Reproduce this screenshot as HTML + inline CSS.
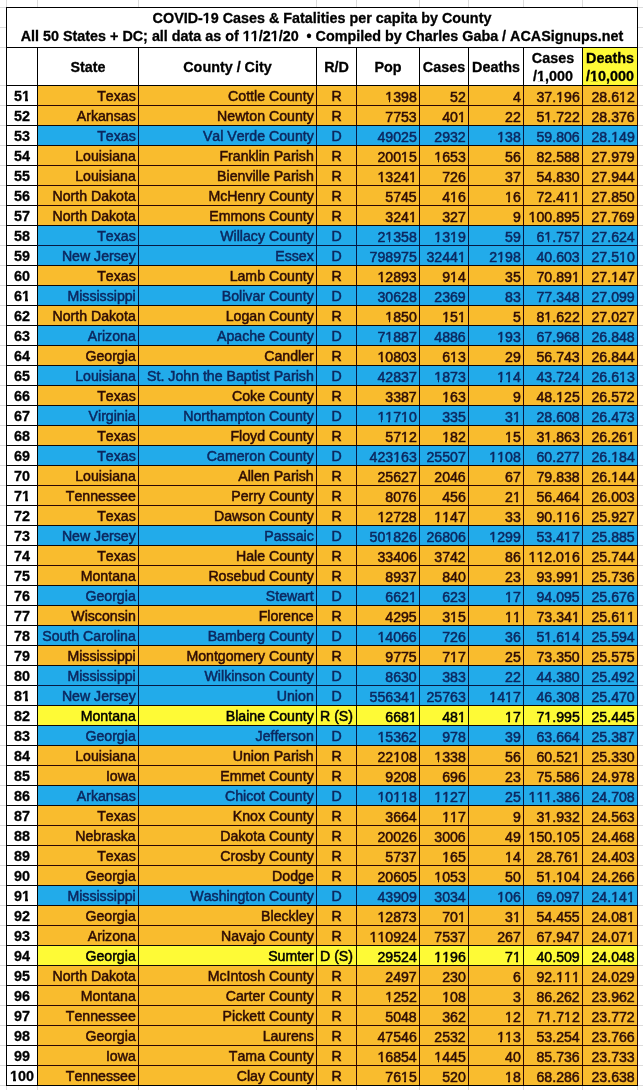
<!DOCTYPE html><html><head><meta charset="utf-8"><style>
html,body{margin:0;padding:0;background:#fff;}
body{width:643px;height:1090px;position:relative;overflow:hidden;font-family:"Liberation Sans",sans-serif;font-size:14.15px;color:#000;font-kerning:none;}
.a{position:absolute;}
.c{position:absolute;white-space:nowrap;line-height:20px;height:20px;-webkit-text-stroke:0.5px currentColor;}
.r{text-align:right;}
.m{text-align:center;}
.b{font-weight:bold;font-size:14.35px;-webkit-text-stroke:0.3px currentColor;}
.o{position:relative;}
.o::before,.o::after{content:'';position:absolute;background:var(--bg,#fff);}
.o::before{left:0;width:0.228em;bottom:0.12em;height:0.22em;}
.o::after{left:0.362em;width:0.195em;bottom:0.12em;height:0.22em;}
.b .o::before{width:0.222em;bottom:0.16em;height:0.2em;}
.b .o::after{left:0.385em;width:0.18em;bottom:0.16em;height:0.2em;}
.gh{position:absolute;height:1px;background:#dcdcdc;}
.gv{position:absolute;width:1px;background:#dcdcdc;}
.lh{position:absolute;height:1px;background:#000;}
.lv{position:absolute;width:1px;background:#000;}

</style></head><body><div id="w" style="position:absolute;left:0;top:0;width:643px;height:1090px;will-change:transform">
<div class="gh" style="left:0;top:7px;width:6px"></div>
<div class="gh" style="left:638px;top:7px;width:5px"></div>
<div class="gh" style="left:0;top:27px;width:6px"></div>
<div class="gh" style="left:638px;top:27px;width:5px"></div>
<div class="gh" style="left:0;top:47px;width:6px"></div>
<div class="gh" style="left:638px;top:47px;width:5px"></div>
<div class="gh" style="left:0;top:85px;width:6px"></div>
<div class="gh" style="left:638px;top:85px;width:5px"></div>
<div class="gh" style="left:0;top:105px;width:6px"></div>
<div class="gh" style="left:638px;top:105px;width:5px"></div>
<div class="gh" style="left:0;top:125px;width:6px"></div>
<div class="gh" style="left:638px;top:125px;width:5px"></div>
<div class="gh" style="left:0;top:145px;width:6px"></div>
<div class="gh" style="left:638px;top:145px;width:5px"></div>
<div class="gh" style="left:0;top:165px;width:6px"></div>
<div class="gh" style="left:638px;top:165px;width:5px"></div>
<div class="gh" style="left:0;top:185px;width:6px"></div>
<div class="gh" style="left:638px;top:185px;width:5px"></div>
<div class="gh" style="left:0;top:205px;width:6px"></div>
<div class="gh" style="left:638px;top:205px;width:5px"></div>
<div class="gh" style="left:0;top:225px;width:6px"></div>
<div class="gh" style="left:638px;top:225px;width:5px"></div>
<div class="gh" style="left:0;top:245px;width:6px"></div>
<div class="gh" style="left:638px;top:245px;width:5px"></div>
<div class="gh" style="left:0;top:265px;width:6px"></div>
<div class="gh" style="left:638px;top:265px;width:5px"></div>
<div class="gh" style="left:0;top:285px;width:6px"></div>
<div class="gh" style="left:638px;top:285px;width:5px"></div>
<div class="gh" style="left:0;top:305px;width:6px"></div>
<div class="gh" style="left:638px;top:305px;width:5px"></div>
<div class="gh" style="left:0;top:325px;width:6px"></div>
<div class="gh" style="left:638px;top:325px;width:5px"></div>
<div class="gh" style="left:0;top:345px;width:6px"></div>
<div class="gh" style="left:638px;top:345px;width:5px"></div>
<div class="gh" style="left:0;top:365px;width:6px"></div>
<div class="gh" style="left:638px;top:365px;width:5px"></div>
<div class="gh" style="left:0;top:385px;width:6px"></div>
<div class="gh" style="left:638px;top:385px;width:5px"></div>
<div class="gh" style="left:0;top:405px;width:6px"></div>
<div class="gh" style="left:638px;top:405px;width:5px"></div>
<div class="gh" style="left:0;top:425px;width:6px"></div>
<div class="gh" style="left:638px;top:425px;width:5px"></div>
<div class="gh" style="left:0;top:445px;width:6px"></div>
<div class="gh" style="left:638px;top:445px;width:5px"></div>
<div class="gh" style="left:0;top:465px;width:6px"></div>
<div class="gh" style="left:638px;top:465px;width:5px"></div>
<div class="gh" style="left:0;top:485px;width:6px"></div>
<div class="gh" style="left:638px;top:485px;width:5px"></div>
<div class="gh" style="left:0;top:505px;width:6px"></div>
<div class="gh" style="left:638px;top:505px;width:5px"></div>
<div class="gh" style="left:0;top:525px;width:6px"></div>
<div class="gh" style="left:638px;top:525px;width:5px"></div>
<div class="gh" style="left:0;top:545px;width:6px"></div>
<div class="gh" style="left:638px;top:545px;width:5px"></div>
<div class="gh" style="left:0;top:565px;width:6px"></div>
<div class="gh" style="left:638px;top:565px;width:5px"></div>
<div class="gh" style="left:0;top:585px;width:6px"></div>
<div class="gh" style="left:638px;top:585px;width:5px"></div>
<div class="gh" style="left:0;top:605px;width:6px"></div>
<div class="gh" style="left:638px;top:605px;width:5px"></div>
<div class="gh" style="left:0;top:625px;width:6px"></div>
<div class="gh" style="left:638px;top:625px;width:5px"></div>
<div class="gh" style="left:0;top:645px;width:6px"></div>
<div class="gh" style="left:638px;top:645px;width:5px"></div>
<div class="gh" style="left:0;top:665px;width:6px"></div>
<div class="gh" style="left:638px;top:665px;width:5px"></div>
<div class="gh" style="left:0;top:685px;width:6px"></div>
<div class="gh" style="left:638px;top:685px;width:5px"></div>
<div class="gh" style="left:0;top:705px;width:6px"></div>
<div class="gh" style="left:638px;top:705px;width:5px"></div>
<div class="gh" style="left:0;top:725px;width:6px"></div>
<div class="gh" style="left:638px;top:725px;width:5px"></div>
<div class="gh" style="left:0;top:745px;width:6px"></div>
<div class="gh" style="left:638px;top:745px;width:5px"></div>
<div class="gh" style="left:0;top:765px;width:6px"></div>
<div class="gh" style="left:638px;top:765px;width:5px"></div>
<div class="gh" style="left:0;top:785px;width:6px"></div>
<div class="gh" style="left:638px;top:785px;width:5px"></div>
<div class="gh" style="left:0;top:805px;width:6px"></div>
<div class="gh" style="left:638px;top:805px;width:5px"></div>
<div class="gh" style="left:0;top:825px;width:6px"></div>
<div class="gh" style="left:638px;top:825px;width:5px"></div>
<div class="gh" style="left:0;top:845px;width:6px"></div>
<div class="gh" style="left:638px;top:845px;width:5px"></div>
<div class="gh" style="left:0;top:865px;width:6px"></div>
<div class="gh" style="left:638px;top:865px;width:5px"></div>
<div class="gh" style="left:0;top:885px;width:6px"></div>
<div class="gh" style="left:638px;top:885px;width:5px"></div>
<div class="gh" style="left:0;top:905px;width:6px"></div>
<div class="gh" style="left:638px;top:905px;width:5px"></div>
<div class="gh" style="left:0;top:925px;width:6px"></div>
<div class="gh" style="left:638px;top:925px;width:5px"></div>
<div class="gh" style="left:0;top:945px;width:6px"></div>
<div class="gh" style="left:638px;top:945px;width:5px"></div>
<div class="gh" style="left:0;top:965px;width:6px"></div>
<div class="gh" style="left:638px;top:965px;width:5px"></div>
<div class="gh" style="left:0;top:985px;width:6px"></div>
<div class="gh" style="left:638px;top:985px;width:5px"></div>
<div class="gh" style="left:0;top:1005px;width:6px"></div>
<div class="gh" style="left:638px;top:1005px;width:5px"></div>
<div class="gh" style="left:0;top:1025px;width:6px"></div>
<div class="gh" style="left:638px;top:1025px;width:5px"></div>
<div class="gh" style="left:0;top:1045px;width:6px"></div>
<div class="gh" style="left:638px;top:1045px;width:5px"></div>
<div class="gh" style="left:0;top:1065px;width:6px"></div>
<div class="gh" style="left:638px;top:1065px;width:5px"></div>
<div class="gh" style="left:0;top:1085px;width:6px"></div>
<div class="gh" style="left:638px;top:1085px;width:5px"></div>
<div class="gv" style="left:6px;top:0;height:7px"></div>
<div class="gv" style="left:6px;top:1086px;height:4px"></div>
<div class="gv" style="left:37px;top:0;height:7px"></div>
<div class="gv" style="left:37px;top:1086px;height:4px"></div>
<div class="gv" style="left:138px;top:0;height:7px"></div>
<div class="gv" style="left:138px;top:1086px;height:4px"></div>
<div class="gv" style="left:316px;top:0;height:7px"></div>
<div class="gv" style="left:316px;top:1086px;height:4px"></div>
<div class="gv" style="left:356px;top:0;height:7px"></div>
<div class="gv" style="left:356px;top:1086px;height:4px"></div>
<div class="gv" style="left:419px;top:0;height:7px"></div>
<div class="gv" style="left:419px;top:1086px;height:4px"></div>
<div class="gv" style="left:468px;top:0;height:7px"></div>
<div class="gv" style="left:468px;top:1086px;height:4px"></div>
<div class="gv" style="left:523px;top:0;height:7px"></div>
<div class="gv" style="left:523px;top:1086px;height:4px"></div>
<div class="gv" style="left:582px;top:0;height:7px"></div>
<div class="gv" style="left:582px;top:1086px;height:4px"></div>
<div class="gv" style="left:637px;top:0;height:7px"></div>
<div class="gv" style="left:637px;top:1086px;height:4px"></div>
<div class="a" style="left:583px;top:48px;width:54px;height:37px;background:#fefa36"></div>
<div class="a" style="left:38px;top:86px;width:599px;height:19px;background:#f9bc2e"></div>
<div class="c m b" style="left:7px;width:30px;top:86px">5<span class="o">1</span></div>
<div class="c r" style="left:38px;width:97.75px;top:86px;color:#2e0c05;--bg:#f9bc2e">Texas</div>
<div class="c r" style="left:139px;width:174.75px;top:86px;color:#2e0c05;--bg:#f9bc2e">Cottle County</div>
<div class="c m" style="left:317px;width:39px;top:86px;color:#2e0c05">R</div>
<div class="c r" style="left:357px;width:59.75px;top:87px;color:#2e0c05;--bg:#f9bc2e"><span class="o">1</span>398</div>
<div class="c r" style="left:420px;width:45.75px;top:87px;color:#2e0c05;--bg:#f9bc2e">52</div>
<div class="c r" style="left:469px;width:51.75px;top:87px;color:#2e0c05;--bg:#f9bc2e">4</div>
<div class="c r" style="left:524px;width:55.75px;top:87px;color:#2e0c05;--bg:#f9bc2e">37.<span class="o">1</span>96</div>
<div class="c r" style="left:583px;width:51.75px;top:87px;color:#2e0c05;--bg:#f9bc2e">28.6<span class="o">1</span>2</div>
<div class="a" style="left:38px;top:106px;width:599px;height:19px;background:#f9bc2e"></div>
<div class="c m b" style="left:7px;width:30px;top:106px">52</div>
<div class="c r" style="left:38px;width:97.75px;top:106px;color:#2e0c05;--bg:#f9bc2e">Arkansas</div>
<div class="c r" style="left:139px;width:174.75px;top:106px;color:#2e0c05;--bg:#f9bc2e">Newton County</div>
<div class="c m" style="left:317px;width:39px;top:106px;color:#2e0c05">R</div>
<div class="c r" style="left:357px;width:59.75px;top:107px;color:#2e0c05;--bg:#f9bc2e">7753</div>
<div class="c r" style="left:420px;width:45.75px;top:107px;color:#2e0c05;--bg:#f9bc2e">40<span class="o">1</span></div>
<div class="c r" style="left:469px;width:51.75px;top:107px;color:#2e0c05;--bg:#f9bc2e">22</div>
<div class="c r" style="left:524px;width:55.75px;top:107px;color:#2e0c05;--bg:#f9bc2e">5<span class="o">1</span>.722</div>
<div class="c r" style="left:583px;width:51.75px;top:107px;color:#2e0c05;--bg:#f9bc2e">28.376</div>
<div class="a" style="left:38px;top:126px;width:599px;height:19px;background:#22abea"></div>
<div class="c m b" style="left:7px;width:30px;top:126px">53</div>
<div class="c r" style="left:38px;width:97.75px;top:126px;color:#0c2860;--bg:#22abea">Texas</div>
<div class="c r" style="left:139px;width:174.75px;top:126px;color:#0c2860;--bg:#22abea">Val Verde County</div>
<div class="c m" style="left:317px;width:39px;top:126px;color:#0c2860">D</div>
<div class="c r" style="left:357px;width:59.75px;top:127px;color:#0c2860;--bg:#22abea">49025</div>
<div class="c r" style="left:420px;width:45.75px;top:127px;color:#0c2860;--bg:#22abea">2932</div>
<div class="c r" style="left:469px;width:51.75px;top:127px;color:#0c2860;--bg:#22abea"><span class="o">1</span>38</div>
<div class="c r" style="left:524px;width:55.75px;top:127px;color:#0c2860;--bg:#22abea">59.806</div>
<div class="c r" style="left:583px;width:51.75px;top:127px;color:#0c2860;--bg:#22abea">28.<span class="o">1</span>49</div>
<div class="a" style="left:38px;top:146px;width:599px;height:19px;background:#f9bc2e"></div>
<div class="c m b" style="left:7px;width:30px;top:146px">54</div>
<div class="c r" style="left:38px;width:97.75px;top:146px;color:#2e0c05;--bg:#f9bc2e">Louisiana</div>
<div class="c r" style="left:139px;width:174.75px;top:146px;color:#2e0c05;--bg:#f9bc2e">Franklin Parish</div>
<div class="c m" style="left:317px;width:39px;top:146px;color:#2e0c05">R</div>
<div class="c r" style="left:357px;width:59.75px;top:147px;color:#2e0c05;--bg:#f9bc2e">200<span class="o">1</span>5</div>
<div class="c r" style="left:420px;width:45.75px;top:147px;color:#2e0c05;--bg:#f9bc2e"><span class="o">1</span>653</div>
<div class="c r" style="left:469px;width:51.75px;top:147px;color:#2e0c05;--bg:#f9bc2e">56</div>
<div class="c r" style="left:524px;width:55.75px;top:147px;color:#2e0c05;--bg:#f9bc2e">82.588</div>
<div class="c r" style="left:583px;width:51.75px;top:147px;color:#2e0c05;--bg:#f9bc2e">27.979</div>
<div class="a" style="left:38px;top:166px;width:599px;height:19px;background:#f9bc2e"></div>
<div class="c m b" style="left:7px;width:30px;top:166px">55</div>
<div class="c r" style="left:38px;width:97.75px;top:166px;color:#2e0c05;--bg:#f9bc2e">Louisiana</div>
<div class="c r" style="left:139px;width:174.75px;top:166px;color:#2e0c05;--bg:#f9bc2e">Bienville Parish</div>
<div class="c m" style="left:317px;width:39px;top:166px;color:#2e0c05">R</div>
<div class="c r" style="left:357px;width:59.75px;top:167px;color:#2e0c05;--bg:#f9bc2e"><span class="o">1</span>324<span class="o">1</span></div>
<div class="c r" style="left:420px;width:45.75px;top:167px;color:#2e0c05;--bg:#f9bc2e">726</div>
<div class="c r" style="left:469px;width:51.75px;top:167px;color:#2e0c05;--bg:#f9bc2e">37</div>
<div class="c r" style="left:524px;width:55.75px;top:167px;color:#2e0c05;--bg:#f9bc2e">54.830</div>
<div class="c r" style="left:583px;width:51.75px;top:167px;color:#2e0c05;--bg:#f9bc2e">27.944</div>
<div class="a" style="left:38px;top:186px;width:599px;height:19px;background:#f9bc2e"></div>
<div class="c m b" style="left:7px;width:30px;top:186px">56</div>
<div class="c r" style="left:38px;width:97.75px;top:186px;color:#2e0c05;--bg:#f9bc2e">North Dakota</div>
<div class="c r" style="left:139px;width:174.75px;top:186px;color:#2e0c05;--bg:#f9bc2e">McHenry County</div>
<div class="c m" style="left:317px;width:39px;top:186px;color:#2e0c05">R</div>
<div class="c r" style="left:357px;width:59.75px;top:187px;color:#2e0c05;--bg:#f9bc2e">5745</div>
<div class="c r" style="left:420px;width:45.75px;top:187px;color:#2e0c05;--bg:#f9bc2e">4<span class="o">1</span>6</div>
<div class="c r" style="left:469px;width:51.75px;top:187px;color:#2e0c05;--bg:#f9bc2e"><span class="o">1</span>6</div>
<div class="c r" style="left:524px;width:55.75px;top:187px;color:#2e0c05;--bg:#f9bc2e">72.4<span class="o">1</span><span class="o">1</span></div>
<div class="c r" style="left:583px;width:51.75px;top:187px;color:#2e0c05;--bg:#f9bc2e">27.850</div>
<div class="a" style="left:38px;top:206px;width:599px;height:19px;background:#f9bc2e"></div>
<div class="c m b" style="left:7px;width:30px;top:206px">57</div>
<div class="c r" style="left:38px;width:97.75px;top:206px;color:#2e0c05;--bg:#f9bc2e">North Dakota</div>
<div class="c r" style="left:139px;width:174.75px;top:206px;color:#2e0c05;--bg:#f9bc2e">Emmons County</div>
<div class="c m" style="left:317px;width:39px;top:206px;color:#2e0c05">R</div>
<div class="c r" style="left:357px;width:59.75px;top:207px;color:#2e0c05;--bg:#f9bc2e">324<span class="o">1</span></div>
<div class="c r" style="left:420px;width:45.75px;top:207px;color:#2e0c05;--bg:#f9bc2e">327</div>
<div class="c r" style="left:469px;width:51.75px;top:207px;color:#2e0c05;--bg:#f9bc2e">9</div>
<div class="c r" style="left:524px;width:55.75px;top:207px;color:#2e0c05;--bg:#f9bc2e"><span class="o">1</span>00.895</div>
<div class="c r" style="left:583px;width:51.75px;top:207px;color:#2e0c05;--bg:#f9bc2e">27.769</div>
<div class="a" style="left:38px;top:226px;width:599px;height:19px;background:#22abea"></div>
<div class="c m b" style="left:7px;width:30px;top:226px">58</div>
<div class="c r" style="left:38px;width:97.75px;top:226px;color:#0c2860;--bg:#22abea">Texas</div>
<div class="c r" style="left:139px;width:174.75px;top:226px;color:#0c2860;--bg:#22abea">Willacy County</div>
<div class="c m" style="left:317px;width:39px;top:226px;color:#0c2860">D</div>
<div class="c r" style="left:357px;width:59.75px;top:227px;color:#0c2860;--bg:#22abea">2<span class="o">1</span>358</div>
<div class="c r" style="left:420px;width:45.75px;top:227px;color:#0c2860;--bg:#22abea"><span class="o">1</span>3<span class="o">1</span>9</div>
<div class="c r" style="left:469px;width:51.75px;top:227px;color:#0c2860;--bg:#22abea">59</div>
<div class="c r" style="left:524px;width:55.75px;top:227px;color:#0c2860;--bg:#22abea">6<span class="o">1</span>.757</div>
<div class="c r" style="left:583px;width:51.75px;top:227px;color:#0c2860;--bg:#22abea">27.624</div>
<div class="a" style="left:38px;top:246px;width:599px;height:19px;background:#22abea"></div>
<div class="c m b" style="left:7px;width:30px;top:246px">59</div>
<div class="c r" style="left:38px;width:97.75px;top:246px;color:#0c2860;--bg:#22abea">New Jersey</div>
<div class="c r" style="left:139px;width:174.75px;top:246px;color:#0c2860;--bg:#22abea">Essex</div>
<div class="c m" style="left:317px;width:39px;top:246px;color:#0c2860">D</div>
<div class="c r" style="left:357px;width:59.75px;top:247px;color:#0c2860;--bg:#22abea">798975</div>
<div class="c r" style="left:420px;width:45.75px;top:247px;color:#0c2860;--bg:#22abea">3244<span class="o">1</span></div>
<div class="c r" style="left:469px;width:51.75px;top:247px;color:#0c2860;--bg:#22abea">2<span class="o">1</span>98</div>
<div class="c r" style="left:524px;width:55.75px;top:247px;color:#0c2860;--bg:#22abea">40.603</div>
<div class="c r" style="left:583px;width:51.75px;top:247px;color:#0c2860;--bg:#22abea">27.5<span class="o">1</span>0</div>
<div class="a" style="left:38px;top:266px;width:599px;height:19px;background:#f9bc2e"></div>
<div class="c m b" style="left:7px;width:30px;top:266px">60</div>
<div class="c r" style="left:38px;width:97.75px;top:266px;color:#2e0c05;--bg:#f9bc2e">Texas</div>
<div class="c r" style="left:139px;width:174.75px;top:266px;color:#2e0c05;--bg:#f9bc2e">Lamb County</div>
<div class="c m" style="left:317px;width:39px;top:266px;color:#2e0c05">R</div>
<div class="c r" style="left:357px;width:59.75px;top:267px;color:#2e0c05;--bg:#f9bc2e"><span class="o">1</span>2893</div>
<div class="c r" style="left:420px;width:45.75px;top:267px;color:#2e0c05;--bg:#f9bc2e">9<span class="o">1</span>4</div>
<div class="c r" style="left:469px;width:51.75px;top:267px;color:#2e0c05;--bg:#f9bc2e">35</div>
<div class="c r" style="left:524px;width:55.75px;top:267px;color:#2e0c05;--bg:#f9bc2e">70.89<span class="o">1</span></div>
<div class="c r" style="left:583px;width:51.75px;top:267px;color:#2e0c05;--bg:#f9bc2e">27.<span class="o">1</span>47</div>
<div class="a" style="left:38px;top:286px;width:599px;height:19px;background:#22abea"></div>
<div class="c m b" style="left:7px;width:30px;top:286px">6<span class="o">1</span></div>
<div class="c r" style="left:38px;width:97.75px;top:286px;color:#0c2860;--bg:#22abea">Mississippi</div>
<div class="c r" style="left:139px;width:174.75px;top:286px;color:#0c2860;--bg:#22abea">Bolivar County</div>
<div class="c m" style="left:317px;width:39px;top:286px;color:#0c2860">D</div>
<div class="c r" style="left:357px;width:59.75px;top:287px;color:#0c2860;--bg:#22abea">30628</div>
<div class="c r" style="left:420px;width:45.75px;top:287px;color:#0c2860;--bg:#22abea">2369</div>
<div class="c r" style="left:469px;width:51.75px;top:287px;color:#0c2860;--bg:#22abea">83</div>
<div class="c r" style="left:524px;width:55.75px;top:287px;color:#0c2860;--bg:#22abea">77.348</div>
<div class="c r" style="left:583px;width:51.75px;top:287px;color:#0c2860;--bg:#22abea">27.099</div>
<div class="a" style="left:38px;top:306px;width:599px;height:19px;background:#f9bc2e"></div>
<div class="c m b" style="left:7px;width:30px;top:306px">62</div>
<div class="c r" style="left:38px;width:97.75px;top:306px;color:#2e0c05;--bg:#f9bc2e">North Dakota</div>
<div class="c r" style="left:139px;width:174.75px;top:306px;color:#2e0c05;--bg:#f9bc2e">Logan County</div>
<div class="c m" style="left:317px;width:39px;top:306px;color:#2e0c05">R</div>
<div class="c r" style="left:357px;width:59.75px;top:307px;color:#2e0c05;--bg:#f9bc2e"><span class="o">1</span>850</div>
<div class="c r" style="left:420px;width:45.75px;top:307px;color:#2e0c05;--bg:#f9bc2e"><span class="o">1</span>5<span class="o">1</span></div>
<div class="c r" style="left:469px;width:51.75px;top:307px;color:#2e0c05;--bg:#f9bc2e">5</div>
<div class="c r" style="left:524px;width:55.75px;top:307px;color:#2e0c05;--bg:#f9bc2e">8<span class="o">1</span>.622</div>
<div class="c r" style="left:583px;width:51.75px;top:307px;color:#2e0c05;--bg:#f9bc2e">27.027</div>
<div class="a" style="left:38px;top:326px;width:599px;height:19px;background:#22abea"></div>
<div class="c m b" style="left:7px;width:30px;top:326px">63</div>
<div class="c r" style="left:38px;width:97.75px;top:326px;color:#0c2860;--bg:#22abea">Arizona</div>
<div class="c r" style="left:139px;width:174.75px;top:326px;color:#0c2860;--bg:#22abea">Apache County</div>
<div class="c m" style="left:317px;width:39px;top:326px;color:#0c2860">D</div>
<div class="c r" style="left:357px;width:59.75px;top:327px;color:#0c2860;--bg:#22abea">7<span class="o">1</span>887</div>
<div class="c r" style="left:420px;width:45.75px;top:327px;color:#0c2860;--bg:#22abea">4886</div>
<div class="c r" style="left:469px;width:51.75px;top:327px;color:#0c2860;--bg:#22abea"><span class="o">1</span>93</div>
<div class="c r" style="left:524px;width:55.75px;top:327px;color:#0c2860;--bg:#22abea">67.968</div>
<div class="c r" style="left:583px;width:51.75px;top:327px;color:#0c2860;--bg:#22abea">26.848</div>
<div class="a" style="left:38px;top:346px;width:599px;height:19px;background:#f9bc2e"></div>
<div class="c m b" style="left:7px;width:30px;top:346px">64</div>
<div class="c r" style="left:38px;width:97.75px;top:346px;color:#2e0c05;--bg:#f9bc2e">Georgia</div>
<div class="c r" style="left:139px;width:174.75px;top:346px;color:#2e0c05;--bg:#f9bc2e">Candler</div>
<div class="c m" style="left:317px;width:39px;top:346px;color:#2e0c05">R</div>
<div class="c r" style="left:357px;width:59.75px;top:347px;color:#2e0c05;--bg:#f9bc2e"><span class="o">1</span>0803</div>
<div class="c r" style="left:420px;width:45.75px;top:347px;color:#2e0c05;--bg:#f9bc2e">6<span class="o">1</span>3</div>
<div class="c r" style="left:469px;width:51.75px;top:347px;color:#2e0c05;--bg:#f9bc2e">29</div>
<div class="c r" style="left:524px;width:55.75px;top:347px;color:#2e0c05;--bg:#f9bc2e">56.743</div>
<div class="c r" style="left:583px;width:51.75px;top:347px;color:#2e0c05;--bg:#f9bc2e">26.844</div>
<div class="a" style="left:38px;top:366px;width:599px;height:19px;background:#22abea"></div>
<div class="c m b" style="left:7px;width:30px;top:366px">65</div>
<div class="c r" style="left:38px;width:97.75px;top:366px;color:#0c2860;--bg:#22abea">Louisiana</div>
<div class="c r" style="left:139px;width:174.75px;top:366px;color:#0c2860;--bg:#22abea">St. John the Baptist Parish</div>
<div class="c m" style="left:317px;width:39px;top:366px;color:#0c2860">D</div>
<div class="c r" style="left:357px;width:59.75px;top:367px;color:#0c2860;--bg:#22abea">42837</div>
<div class="c r" style="left:420px;width:45.75px;top:367px;color:#0c2860;--bg:#22abea"><span class="o">1</span>873</div>
<div class="c r" style="left:469px;width:51.75px;top:367px;color:#0c2860;--bg:#22abea"><span class="o">1</span><span class="o">1</span>4</div>
<div class="c r" style="left:524px;width:55.75px;top:367px;color:#0c2860;--bg:#22abea">43.724</div>
<div class="c r" style="left:583px;width:51.75px;top:367px;color:#0c2860;--bg:#22abea">26.6<span class="o">1</span>3</div>
<div class="a" style="left:38px;top:386px;width:599px;height:19px;background:#f9bc2e"></div>
<div class="c m b" style="left:7px;width:30px;top:386px">66</div>
<div class="c r" style="left:38px;width:97.75px;top:386px;color:#2e0c05;--bg:#f9bc2e">Texas</div>
<div class="c r" style="left:139px;width:174.75px;top:386px;color:#2e0c05;--bg:#f9bc2e">Coke County</div>
<div class="c m" style="left:317px;width:39px;top:386px;color:#2e0c05">R</div>
<div class="c r" style="left:357px;width:59.75px;top:387px;color:#2e0c05;--bg:#f9bc2e">3387</div>
<div class="c r" style="left:420px;width:45.75px;top:387px;color:#2e0c05;--bg:#f9bc2e"><span class="o">1</span>63</div>
<div class="c r" style="left:469px;width:51.75px;top:387px;color:#2e0c05;--bg:#f9bc2e">9</div>
<div class="c r" style="left:524px;width:55.75px;top:387px;color:#2e0c05;--bg:#f9bc2e">48.<span class="o">1</span>25</div>
<div class="c r" style="left:583px;width:51.75px;top:387px;color:#2e0c05;--bg:#f9bc2e">26.572</div>
<div class="a" style="left:38px;top:406px;width:599px;height:19px;background:#22abea"></div>
<div class="c m b" style="left:7px;width:30px;top:406px">67</div>
<div class="c r" style="left:38px;width:97.75px;top:406px;color:#0c2860;--bg:#22abea">Virginia</div>
<div class="c r" style="left:139px;width:174.75px;top:406px;color:#0c2860;--bg:#22abea">Northampton County</div>
<div class="c m" style="left:317px;width:39px;top:406px;color:#0c2860">D</div>
<div class="c r" style="left:357px;width:59.75px;top:407px;color:#0c2860;--bg:#22abea"><span class="o">1</span><span class="o">1</span>7<span class="o">1</span>0</div>
<div class="c r" style="left:420px;width:45.75px;top:407px;color:#0c2860;--bg:#22abea">335</div>
<div class="c r" style="left:469px;width:51.75px;top:407px;color:#0c2860;--bg:#22abea">3<span class="o">1</span></div>
<div class="c r" style="left:524px;width:55.75px;top:407px;color:#0c2860;--bg:#22abea">28.608</div>
<div class="c r" style="left:583px;width:51.75px;top:407px;color:#0c2860;--bg:#22abea">26.473</div>
<div class="a" style="left:38px;top:426px;width:599px;height:19px;background:#f9bc2e"></div>
<div class="c m b" style="left:7px;width:30px;top:426px">68</div>
<div class="c r" style="left:38px;width:97.75px;top:426px;color:#2e0c05;--bg:#f9bc2e">Texas</div>
<div class="c r" style="left:139px;width:174.75px;top:426px;color:#2e0c05;--bg:#f9bc2e">Floyd County</div>
<div class="c m" style="left:317px;width:39px;top:426px;color:#2e0c05">R</div>
<div class="c r" style="left:357px;width:59.75px;top:427px;color:#2e0c05;--bg:#f9bc2e">57<span class="o">1</span>2</div>
<div class="c r" style="left:420px;width:45.75px;top:427px;color:#2e0c05;--bg:#f9bc2e"><span class="o">1</span>82</div>
<div class="c r" style="left:469px;width:51.75px;top:427px;color:#2e0c05;--bg:#f9bc2e"><span class="o">1</span>5</div>
<div class="c r" style="left:524px;width:55.75px;top:427px;color:#2e0c05;--bg:#f9bc2e">3<span class="o">1</span>.863</div>
<div class="c r" style="left:583px;width:51.75px;top:427px;color:#2e0c05;--bg:#f9bc2e">26.26<span class="o">1</span></div>
<div class="a" style="left:38px;top:446px;width:599px;height:19px;background:#22abea"></div>
<div class="c m b" style="left:7px;width:30px;top:446px">69</div>
<div class="c r" style="left:38px;width:97.75px;top:446px;color:#0c2860;--bg:#22abea">Texas</div>
<div class="c r" style="left:139px;width:174.75px;top:446px;color:#0c2860;--bg:#22abea">Cameron County</div>
<div class="c m" style="left:317px;width:39px;top:446px;color:#0c2860">D</div>
<div class="c r" style="left:357px;width:59.75px;top:447px;color:#0c2860;--bg:#22abea">423<span class="o">1</span>63</div>
<div class="c r" style="left:420px;width:45.75px;top:447px;color:#0c2860;--bg:#22abea">25507</div>
<div class="c r" style="left:469px;width:51.75px;top:447px;color:#0c2860;--bg:#22abea"><span class="o">1</span><span class="o">1</span>08</div>
<div class="c r" style="left:524px;width:55.75px;top:447px;color:#0c2860;--bg:#22abea">60.277</div>
<div class="c r" style="left:583px;width:51.75px;top:447px;color:#0c2860;--bg:#22abea">26.<span class="o">1</span>84</div>
<div class="a" style="left:38px;top:466px;width:599px;height:19px;background:#f9bc2e"></div>
<div class="c m b" style="left:7px;width:30px;top:466px">70</div>
<div class="c r" style="left:38px;width:97.75px;top:466px;color:#2e0c05;--bg:#f9bc2e">Louisiana</div>
<div class="c r" style="left:139px;width:174.75px;top:466px;color:#2e0c05;--bg:#f9bc2e">Allen Parish</div>
<div class="c m" style="left:317px;width:39px;top:466px;color:#2e0c05">R</div>
<div class="c r" style="left:357px;width:59.75px;top:467px;color:#2e0c05;--bg:#f9bc2e">25627</div>
<div class="c r" style="left:420px;width:45.75px;top:467px;color:#2e0c05;--bg:#f9bc2e">2046</div>
<div class="c r" style="left:469px;width:51.75px;top:467px;color:#2e0c05;--bg:#f9bc2e">67</div>
<div class="c r" style="left:524px;width:55.75px;top:467px;color:#2e0c05;--bg:#f9bc2e">79.838</div>
<div class="c r" style="left:583px;width:51.75px;top:467px;color:#2e0c05;--bg:#f9bc2e">26.<span class="o">1</span>44</div>
<div class="a" style="left:38px;top:486px;width:599px;height:19px;background:#f9bc2e"></div>
<div class="c m b" style="left:7px;width:30px;top:486px">7<span class="o">1</span></div>
<div class="c r" style="left:38px;width:97.75px;top:486px;color:#2e0c05;--bg:#f9bc2e">Tennessee</div>
<div class="c r" style="left:139px;width:174.75px;top:486px;color:#2e0c05;--bg:#f9bc2e">Perry County</div>
<div class="c m" style="left:317px;width:39px;top:486px;color:#2e0c05">R</div>
<div class="c r" style="left:357px;width:59.75px;top:487px;color:#2e0c05;--bg:#f9bc2e">8076</div>
<div class="c r" style="left:420px;width:45.75px;top:487px;color:#2e0c05;--bg:#f9bc2e">456</div>
<div class="c r" style="left:469px;width:51.75px;top:487px;color:#2e0c05;--bg:#f9bc2e">2<span class="o">1</span></div>
<div class="c r" style="left:524px;width:55.75px;top:487px;color:#2e0c05;--bg:#f9bc2e">56.464</div>
<div class="c r" style="left:583px;width:51.75px;top:487px;color:#2e0c05;--bg:#f9bc2e">26.003</div>
<div class="a" style="left:38px;top:506px;width:599px;height:19px;background:#f9bc2e"></div>
<div class="c m b" style="left:7px;width:30px;top:506px">72</div>
<div class="c r" style="left:38px;width:97.75px;top:506px;color:#2e0c05;--bg:#f9bc2e">Texas</div>
<div class="c r" style="left:139px;width:174.75px;top:506px;color:#2e0c05;--bg:#f9bc2e">Dawson County</div>
<div class="c m" style="left:317px;width:39px;top:506px;color:#2e0c05">R</div>
<div class="c r" style="left:357px;width:59.75px;top:507px;color:#2e0c05;--bg:#f9bc2e"><span class="o">1</span>2728</div>
<div class="c r" style="left:420px;width:45.75px;top:507px;color:#2e0c05;--bg:#f9bc2e"><span class="o">1</span><span class="o">1</span>47</div>
<div class="c r" style="left:469px;width:51.75px;top:507px;color:#2e0c05;--bg:#f9bc2e">33</div>
<div class="c r" style="left:524px;width:55.75px;top:507px;color:#2e0c05;--bg:#f9bc2e">90.<span class="o">1</span><span class="o">1</span>6</div>
<div class="c r" style="left:583px;width:51.75px;top:507px;color:#2e0c05;--bg:#f9bc2e">25.927</div>
<div class="a" style="left:38px;top:526px;width:599px;height:19px;background:#22abea"></div>
<div class="c m b" style="left:7px;width:30px;top:526px">73</div>
<div class="c r" style="left:38px;width:97.75px;top:526px;color:#0c2860;--bg:#22abea">New Jersey</div>
<div class="c r" style="left:139px;width:174.75px;top:526px;color:#0c2860;--bg:#22abea">Passaic</div>
<div class="c m" style="left:317px;width:39px;top:526px;color:#0c2860">D</div>
<div class="c r" style="left:357px;width:59.75px;top:527px;color:#0c2860;--bg:#22abea">50<span class="o">1</span>826</div>
<div class="c r" style="left:420px;width:45.75px;top:527px;color:#0c2860;--bg:#22abea">26806</div>
<div class="c r" style="left:469px;width:51.75px;top:527px;color:#0c2860;--bg:#22abea"><span class="o">1</span>299</div>
<div class="c r" style="left:524px;width:55.75px;top:527px;color:#0c2860;--bg:#22abea">53.4<span class="o">1</span>7</div>
<div class="c r" style="left:583px;width:51.75px;top:527px;color:#0c2860;--bg:#22abea">25.885</div>
<div class="a" style="left:38px;top:546px;width:599px;height:19px;background:#f9bc2e"></div>
<div class="c m b" style="left:7px;width:30px;top:546px">74</div>
<div class="c r" style="left:38px;width:97.75px;top:546px;color:#2e0c05;--bg:#f9bc2e">Texas</div>
<div class="c r" style="left:139px;width:174.75px;top:546px;color:#2e0c05;--bg:#f9bc2e">Hale County</div>
<div class="c m" style="left:317px;width:39px;top:546px;color:#2e0c05">R</div>
<div class="c r" style="left:357px;width:59.75px;top:547px;color:#2e0c05;--bg:#f9bc2e">33406</div>
<div class="c r" style="left:420px;width:45.75px;top:547px;color:#2e0c05;--bg:#f9bc2e">3742</div>
<div class="c r" style="left:469px;width:51.75px;top:547px;color:#2e0c05;--bg:#f9bc2e">86</div>
<div class="c r" style="left:524px;width:55.75px;top:547px;color:#2e0c05;--bg:#f9bc2e"><span class="o">1</span><span class="o">1</span>2.0<span class="o">1</span>6</div>
<div class="c r" style="left:583px;width:51.75px;top:547px;color:#2e0c05;--bg:#f9bc2e">25.744</div>
<div class="a" style="left:38px;top:566px;width:599px;height:19px;background:#f9bc2e"></div>
<div class="c m b" style="left:7px;width:30px;top:566px">75</div>
<div class="c r" style="left:38px;width:97.75px;top:566px;color:#2e0c05;--bg:#f9bc2e">Montana</div>
<div class="c r" style="left:139px;width:174.75px;top:566px;color:#2e0c05;--bg:#f9bc2e">Rosebud County</div>
<div class="c m" style="left:317px;width:39px;top:566px;color:#2e0c05">R</div>
<div class="c r" style="left:357px;width:59.75px;top:567px;color:#2e0c05;--bg:#f9bc2e">8937</div>
<div class="c r" style="left:420px;width:45.75px;top:567px;color:#2e0c05;--bg:#f9bc2e">840</div>
<div class="c r" style="left:469px;width:51.75px;top:567px;color:#2e0c05;--bg:#f9bc2e">23</div>
<div class="c r" style="left:524px;width:55.75px;top:567px;color:#2e0c05;--bg:#f9bc2e">93.99<span class="o">1</span></div>
<div class="c r" style="left:583px;width:51.75px;top:567px;color:#2e0c05;--bg:#f9bc2e">25.736</div>
<div class="a" style="left:38px;top:586px;width:599px;height:19px;background:#22abea"></div>
<div class="c m b" style="left:7px;width:30px;top:586px">76</div>
<div class="c r" style="left:38px;width:97.75px;top:586px;color:#0c2860;--bg:#22abea">Georgia</div>
<div class="c r" style="left:139px;width:174.75px;top:586px;color:#0c2860;--bg:#22abea">Stewart</div>
<div class="c m" style="left:317px;width:39px;top:586px;color:#0c2860">D</div>
<div class="c r" style="left:357px;width:59.75px;top:587px;color:#0c2860;--bg:#22abea">662<span class="o">1</span></div>
<div class="c r" style="left:420px;width:45.75px;top:587px;color:#0c2860;--bg:#22abea">623</div>
<div class="c r" style="left:469px;width:51.75px;top:587px;color:#0c2860;--bg:#22abea"><span class="o">1</span>7</div>
<div class="c r" style="left:524px;width:55.75px;top:587px;color:#0c2860;--bg:#22abea">94.095</div>
<div class="c r" style="left:583px;width:51.75px;top:587px;color:#0c2860;--bg:#22abea">25.676</div>
<div class="a" style="left:38px;top:606px;width:599px;height:19px;background:#f9bc2e"></div>
<div class="c m b" style="left:7px;width:30px;top:606px">77</div>
<div class="c r" style="left:38px;width:97.75px;top:606px;color:#2e0c05;--bg:#f9bc2e">Wisconsin</div>
<div class="c r" style="left:139px;width:174.75px;top:606px;color:#2e0c05;--bg:#f9bc2e">Florence</div>
<div class="c m" style="left:317px;width:39px;top:606px;color:#2e0c05">R</div>
<div class="c r" style="left:357px;width:59.75px;top:607px;color:#2e0c05;--bg:#f9bc2e">4295</div>
<div class="c r" style="left:420px;width:45.75px;top:607px;color:#2e0c05;--bg:#f9bc2e">3<span class="o">1</span>5</div>
<div class="c r" style="left:469px;width:51.75px;top:607px;color:#2e0c05;--bg:#f9bc2e"><span class="o">1</span><span class="o">1</span></div>
<div class="c r" style="left:524px;width:55.75px;top:607px;color:#2e0c05;--bg:#f9bc2e">73.34<span class="o">1</span></div>
<div class="c r" style="left:583px;width:51.75px;top:607px;color:#2e0c05;--bg:#f9bc2e">25.6<span class="o">1</span><span class="o">1</span></div>
<div class="a" style="left:38px;top:626px;width:599px;height:19px;background:#22abea"></div>
<div class="c m b" style="left:7px;width:30px;top:626px">78</div>
<div class="c r" style="left:38px;width:97.75px;top:626px;color:#0c2860;--bg:#22abea">South Carolina</div>
<div class="c r" style="left:139px;width:174.75px;top:626px;color:#0c2860;--bg:#22abea">Bamberg County</div>
<div class="c m" style="left:317px;width:39px;top:626px;color:#0c2860">D</div>
<div class="c r" style="left:357px;width:59.75px;top:627px;color:#0c2860;--bg:#22abea"><span class="o">1</span>4066</div>
<div class="c r" style="left:420px;width:45.75px;top:627px;color:#0c2860;--bg:#22abea">726</div>
<div class="c r" style="left:469px;width:51.75px;top:627px;color:#0c2860;--bg:#22abea">36</div>
<div class="c r" style="left:524px;width:55.75px;top:627px;color:#0c2860;--bg:#22abea">5<span class="o">1</span>.6<span class="o">1</span>4</div>
<div class="c r" style="left:583px;width:51.75px;top:627px;color:#0c2860;--bg:#22abea">25.594</div>
<div class="a" style="left:38px;top:646px;width:599px;height:19px;background:#f9bc2e"></div>
<div class="c m b" style="left:7px;width:30px;top:646px">79</div>
<div class="c r" style="left:38px;width:97.75px;top:646px;color:#2e0c05;--bg:#f9bc2e">Mississippi</div>
<div class="c r" style="left:139px;width:174.75px;top:646px;color:#2e0c05;--bg:#f9bc2e">Montgomery County</div>
<div class="c m" style="left:317px;width:39px;top:646px;color:#2e0c05">R</div>
<div class="c r" style="left:357px;width:59.75px;top:647px;color:#2e0c05;--bg:#f9bc2e">9775</div>
<div class="c r" style="left:420px;width:45.75px;top:647px;color:#2e0c05;--bg:#f9bc2e">7<span class="o">1</span>7</div>
<div class="c r" style="left:469px;width:51.75px;top:647px;color:#2e0c05;--bg:#f9bc2e">25</div>
<div class="c r" style="left:524px;width:55.75px;top:647px;color:#2e0c05;--bg:#f9bc2e">73.350</div>
<div class="c r" style="left:583px;width:51.75px;top:647px;color:#2e0c05;--bg:#f9bc2e">25.575</div>
<div class="a" style="left:38px;top:666px;width:599px;height:19px;background:#22abea"></div>
<div class="c m b" style="left:7px;width:30px;top:666px">80</div>
<div class="c r" style="left:38px;width:97.75px;top:666px;color:#0c2860;--bg:#22abea">Mississippi</div>
<div class="c r" style="left:139px;width:174.75px;top:666px;color:#0c2860;--bg:#22abea">Wilkinson County</div>
<div class="c m" style="left:317px;width:39px;top:666px;color:#0c2860">D</div>
<div class="c r" style="left:357px;width:59.75px;top:667px;color:#0c2860;--bg:#22abea">8630</div>
<div class="c r" style="left:420px;width:45.75px;top:667px;color:#0c2860;--bg:#22abea">383</div>
<div class="c r" style="left:469px;width:51.75px;top:667px;color:#0c2860;--bg:#22abea">22</div>
<div class="c r" style="left:524px;width:55.75px;top:667px;color:#0c2860;--bg:#22abea">44.380</div>
<div class="c r" style="left:583px;width:51.75px;top:667px;color:#0c2860;--bg:#22abea">25.492</div>
<div class="a" style="left:38px;top:686px;width:599px;height:19px;background:#22abea"></div>
<div class="c m b" style="left:7px;width:30px;top:686px">8<span class="o">1</span></div>
<div class="c r" style="left:38px;width:97.75px;top:686px;color:#0c2860;--bg:#22abea">New Jersey</div>
<div class="c r" style="left:139px;width:174.75px;top:686px;color:#0c2860;--bg:#22abea">Union</div>
<div class="c m" style="left:317px;width:39px;top:686px;color:#0c2860">D</div>
<div class="c r" style="left:357px;width:59.75px;top:687px;color:#0c2860;--bg:#22abea">55634<span class="o">1</span></div>
<div class="c r" style="left:420px;width:45.75px;top:687px;color:#0c2860;--bg:#22abea">25763</div>
<div class="c r" style="left:469px;width:51.75px;top:687px;color:#0c2860;--bg:#22abea"><span class="o">1</span>4<span class="o">1</span>7</div>
<div class="c r" style="left:524px;width:55.75px;top:687px;color:#0c2860;--bg:#22abea">46.308</div>
<div class="c r" style="left:583px;width:51.75px;top:687px;color:#0c2860;--bg:#22abea">25.470</div>
<div class="a" style="left:38px;top:706px;width:599px;height:19px;background:#fefa36"></div>
<div class="c m b" style="left:7px;width:30px;top:706px">82</div>
<div class="c r" style="left:38px;width:97.75px;top:706px;color:#000;--bg:#fefa36">Montana</div>
<div class="c r" style="left:139px;width:174.75px;top:706px;color:#000;--bg:#fefa36">Blaine County</div>
<div class="c m" style="left:317px;width:39px;top:706px;color:#000">R (S)</div>
<div class="c r" style="left:357px;width:59.75px;top:707px;color:#000;--bg:#fefa36">668<span class="o">1</span></div>
<div class="c r" style="left:420px;width:45.75px;top:707px;color:#000;--bg:#fefa36">48<span class="o">1</span></div>
<div class="c r" style="left:469px;width:51.75px;top:707px;color:#000;--bg:#fefa36"><span class="o">1</span>7</div>
<div class="c r" style="left:524px;width:55.75px;top:707px;color:#000;--bg:#fefa36">7<span class="o">1</span>.995</div>
<div class="c r" style="left:583px;width:51.75px;top:707px;color:#000;--bg:#fefa36">25.445</div>
<div class="a" style="left:38px;top:726px;width:599px;height:19px;background:#22abea"></div>
<div class="c m b" style="left:7px;width:30px;top:726px">83</div>
<div class="c r" style="left:38px;width:97.75px;top:726px;color:#0c2860;--bg:#22abea">Georgia</div>
<div class="c r" style="left:139px;width:174.75px;top:726px;color:#0c2860;--bg:#22abea">Jefferson</div>
<div class="c m" style="left:317px;width:39px;top:726px;color:#0c2860">D</div>
<div class="c r" style="left:357px;width:59.75px;top:727px;color:#0c2860;--bg:#22abea"><span class="o">1</span>5362</div>
<div class="c r" style="left:420px;width:45.75px;top:727px;color:#0c2860;--bg:#22abea">978</div>
<div class="c r" style="left:469px;width:51.75px;top:727px;color:#0c2860;--bg:#22abea">39</div>
<div class="c r" style="left:524px;width:55.75px;top:727px;color:#0c2860;--bg:#22abea">63.664</div>
<div class="c r" style="left:583px;width:51.75px;top:727px;color:#0c2860;--bg:#22abea">25.387</div>
<div class="a" style="left:38px;top:746px;width:599px;height:19px;background:#f9bc2e"></div>
<div class="c m b" style="left:7px;width:30px;top:746px">84</div>
<div class="c r" style="left:38px;width:97.75px;top:746px;color:#2e0c05;--bg:#f9bc2e">Louisiana</div>
<div class="c r" style="left:139px;width:174.75px;top:746px;color:#2e0c05;--bg:#f9bc2e">Union Parish</div>
<div class="c m" style="left:317px;width:39px;top:746px;color:#2e0c05">R</div>
<div class="c r" style="left:357px;width:59.75px;top:747px;color:#2e0c05;--bg:#f9bc2e">22<span class="o">1</span>08</div>
<div class="c r" style="left:420px;width:45.75px;top:747px;color:#2e0c05;--bg:#f9bc2e"><span class="o">1</span>338</div>
<div class="c r" style="left:469px;width:51.75px;top:747px;color:#2e0c05;--bg:#f9bc2e">56</div>
<div class="c r" style="left:524px;width:55.75px;top:747px;color:#2e0c05;--bg:#f9bc2e">60.52<span class="o">1</span></div>
<div class="c r" style="left:583px;width:51.75px;top:747px;color:#2e0c05;--bg:#f9bc2e">25.330</div>
<div class="a" style="left:38px;top:766px;width:599px;height:19px;background:#f9bc2e"></div>
<div class="c m b" style="left:7px;width:30px;top:766px">85</div>
<div class="c r" style="left:38px;width:97.75px;top:766px;color:#2e0c05;--bg:#f9bc2e">Iowa</div>
<div class="c r" style="left:139px;width:174.75px;top:766px;color:#2e0c05;--bg:#f9bc2e">Emmet County</div>
<div class="c m" style="left:317px;width:39px;top:766px;color:#2e0c05">R</div>
<div class="c r" style="left:357px;width:59.75px;top:767px;color:#2e0c05;--bg:#f9bc2e">9208</div>
<div class="c r" style="left:420px;width:45.75px;top:767px;color:#2e0c05;--bg:#f9bc2e">696</div>
<div class="c r" style="left:469px;width:51.75px;top:767px;color:#2e0c05;--bg:#f9bc2e">23</div>
<div class="c r" style="left:524px;width:55.75px;top:767px;color:#2e0c05;--bg:#f9bc2e">75.586</div>
<div class="c r" style="left:583px;width:51.75px;top:767px;color:#2e0c05;--bg:#f9bc2e">24.978</div>
<div class="a" style="left:38px;top:786px;width:599px;height:19px;background:#22abea"></div>
<div class="c m b" style="left:7px;width:30px;top:786px">86</div>
<div class="c r" style="left:38px;width:97.75px;top:786px;color:#0c2860;--bg:#22abea">Arkansas</div>
<div class="c r" style="left:139px;width:174.75px;top:786px;color:#0c2860;--bg:#22abea">Chicot County</div>
<div class="c m" style="left:317px;width:39px;top:786px;color:#0c2860">D</div>
<div class="c r" style="left:357px;width:59.75px;top:787px;color:#0c2860;--bg:#22abea"><span class="o">1</span>0<span class="o">1</span><span class="o">1</span>8</div>
<div class="c r" style="left:420px;width:45.75px;top:787px;color:#0c2860;--bg:#22abea"><span class="o">1</span><span class="o">1</span>27</div>
<div class="c r" style="left:469px;width:51.75px;top:787px;color:#0c2860;--bg:#22abea">25</div>
<div class="c r" style="left:524px;width:55.75px;top:787px;color:#0c2860;--bg:#22abea"><span class="o">1</span><span class="o">1</span><span class="o">1</span>.386</div>
<div class="c r" style="left:583px;width:51.75px;top:787px;color:#0c2860;--bg:#22abea">24.708</div>
<div class="a" style="left:38px;top:806px;width:599px;height:19px;background:#f9bc2e"></div>
<div class="c m b" style="left:7px;width:30px;top:806px">87</div>
<div class="c r" style="left:38px;width:97.75px;top:806px;color:#2e0c05;--bg:#f9bc2e">Texas</div>
<div class="c r" style="left:139px;width:174.75px;top:806px;color:#2e0c05;--bg:#f9bc2e">Knox County</div>
<div class="c m" style="left:317px;width:39px;top:806px;color:#2e0c05">R</div>
<div class="c r" style="left:357px;width:59.75px;top:807px;color:#2e0c05;--bg:#f9bc2e">3664</div>
<div class="c r" style="left:420px;width:45.75px;top:807px;color:#2e0c05;--bg:#f9bc2e"><span class="o">1</span><span class="o">1</span>7</div>
<div class="c r" style="left:469px;width:51.75px;top:807px;color:#2e0c05;--bg:#f9bc2e">9</div>
<div class="c r" style="left:524px;width:55.75px;top:807px;color:#2e0c05;--bg:#f9bc2e">3<span class="o">1</span>.932</div>
<div class="c r" style="left:583px;width:51.75px;top:807px;color:#2e0c05;--bg:#f9bc2e">24.563</div>
<div class="a" style="left:38px;top:826px;width:599px;height:19px;background:#f9bc2e"></div>
<div class="c m b" style="left:7px;width:30px;top:826px">88</div>
<div class="c r" style="left:38px;width:97.75px;top:826px;color:#2e0c05;--bg:#f9bc2e">Nebraska</div>
<div class="c r" style="left:139px;width:174.75px;top:826px;color:#2e0c05;--bg:#f9bc2e">Dakota County</div>
<div class="c m" style="left:317px;width:39px;top:826px;color:#2e0c05">R</div>
<div class="c r" style="left:357px;width:59.75px;top:827px;color:#2e0c05;--bg:#f9bc2e">20026</div>
<div class="c r" style="left:420px;width:45.75px;top:827px;color:#2e0c05;--bg:#f9bc2e">3006</div>
<div class="c r" style="left:469px;width:51.75px;top:827px;color:#2e0c05;--bg:#f9bc2e">49</div>
<div class="c r" style="left:524px;width:55.75px;top:827px;color:#2e0c05;--bg:#f9bc2e"><span class="o">1</span>50.<span class="o">1</span>05</div>
<div class="c r" style="left:583px;width:51.75px;top:827px;color:#2e0c05;--bg:#f9bc2e">24.468</div>
<div class="a" style="left:38px;top:846px;width:599px;height:19px;background:#f9bc2e"></div>
<div class="c m b" style="left:7px;width:30px;top:846px">89</div>
<div class="c r" style="left:38px;width:97.75px;top:846px;color:#2e0c05;--bg:#f9bc2e">Texas</div>
<div class="c r" style="left:139px;width:174.75px;top:846px;color:#2e0c05;--bg:#f9bc2e">Crosby County</div>
<div class="c m" style="left:317px;width:39px;top:846px;color:#2e0c05">R</div>
<div class="c r" style="left:357px;width:59.75px;top:847px;color:#2e0c05;--bg:#f9bc2e">5737</div>
<div class="c r" style="left:420px;width:45.75px;top:847px;color:#2e0c05;--bg:#f9bc2e"><span class="o">1</span>65</div>
<div class="c r" style="left:469px;width:51.75px;top:847px;color:#2e0c05;--bg:#f9bc2e"><span class="o">1</span>4</div>
<div class="c r" style="left:524px;width:55.75px;top:847px;color:#2e0c05;--bg:#f9bc2e">28.76<span class="o">1</span></div>
<div class="c r" style="left:583px;width:51.75px;top:847px;color:#2e0c05;--bg:#f9bc2e">24.403</div>
<div class="a" style="left:38px;top:866px;width:599px;height:19px;background:#f9bc2e"></div>
<div class="c m b" style="left:7px;width:30px;top:866px">90</div>
<div class="c r" style="left:38px;width:97.75px;top:866px;color:#2e0c05;--bg:#f9bc2e">Georgia</div>
<div class="c r" style="left:139px;width:174.75px;top:866px;color:#2e0c05;--bg:#f9bc2e">Dodge</div>
<div class="c m" style="left:317px;width:39px;top:866px;color:#2e0c05">R</div>
<div class="c r" style="left:357px;width:59.75px;top:867px;color:#2e0c05;--bg:#f9bc2e">20605</div>
<div class="c r" style="left:420px;width:45.75px;top:867px;color:#2e0c05;--bg:#f9bc2e"><span class="o">1</span>053</div>
<div class="c r" style="left:469px;width:51.75px;top:867px;color:#2e0c05;--bg:#f9bc2e">50</div>
<div class="c r" style="left:524px;width:55.75px;top:867px;color:#2e0c05;--bg:#f9bc2e">5<span class="o">1</span>.<span class="o">1</span>04</div>
<div class="c r" style="left:583px;width:51.75px;top:867px;color:#2e0c05;--bg:#f9bc2e">24.266</div>
<div class="a" style="left:38px;top:886px;width:599px;height:19px;background:#22abea"></div>
<div class="c m b" style="left:7px;width:30px;top:886px">9<span class="o">1</span></div>
<div class="c r" style="left:38px;width:97.75px;top:886px;color:#0c2860;--bg:#22abea">Mississippi</div>
<div class="c r" style="left:139px;width:174.75px;top:886px;color:#0c2860;--bg:#22abea">Washington County</div>
<div class="c m" style="left:317px;width:39px;top:886px;color:#0c2860">D</div>
<div class="c r" style="left:357px;width:59.75px;top:887px;color:#0c2860;--bg:#22abea">43909</div>
<div class="c r" style="left:420px;width:45.75px;top:887px;color:#0c2860;--bg:#22abea">3034</div>
<div class="c r" style="left:469px;width:51.75px;top:887px;color:#0c2860;--bg:#22abea"><span class="o">1</span>06</div>
<div class="c r" style="left:524px;width:55.75px;top:887px;color:#0c2860;--bg:#22abea">69.097</div>
<div class="c r" style="left:583px;width:51.75px;top:887px;color:#0c2860;--bg:#22abea">24.<span class="o">1</span>4<span class="o">1</span></div>
<div class="a" style="left:38px;top:906px;width:599px;height:19px;background:#f9bc2e"></div>
<div class="c m b" style="left:7px;width:30px;top:906px">92</div>
<div class="c r" style="left:38px;width:97.75px;top:906px;color:#2e0c05;--bg:#f9bc2e">Georgia</div>
<div class="c r" style="left:139px;width:174.75px;top:906px;color:#2e0c05;--bg:#f9bc2e">Bleckley</div>
<div class="c m" style="left:317px;width:39px;top:906px;color:#2e0c05">R</div>
<div class="c r" style="left:357px;width:59.75px;top:907px;color:#2e0c05;--bg:#f9bc2e"><span class="o">1</span>2873</div>
<div class="c r" style="left:420px;width:45.75px;top:907px;color:#2e0c05;--bg:#f9bc2e">70<span class="o">1</span></div>
<div class="c r" style="left:469px;width:51.75px;top:907px;color:#2e0c05;--bg:#f9bc2e">3<span class="o">1</span></div>
<div class="c r" style="left:524px;width:55.75px;top:907px;color:#2e0c05;--bg:#f9bc2e">54.455</div>
<div class="c r" style="left:583px;width:51.75px;top:907px;color:#2e0c05;--bg:#f9bc2e">24.08<span class="o">1</span></div>
<div class="a" style="left:38px;top:926px;width:599px;height:19px;background:#f9bc2e"></div>
<div class="c m b" style="left:7px;width:30px;top:926px">93</div>
<div class="c r" style="left:38px;width:97.75px;top:926px;color:#2e0c05;--bg:#f9bc2e">Arizona</div>
<div class="c r" style="left:139px;width:174.75px;top:926px;color:#2e0c05;--bg:#f9bc2e">Navajo County</div>
<div class="c m" style="left:317px;width:39px;top:926px;color:#2e0c05">R</div>
<div class="c r" style="left:357px;width:59.75px;top:927px;color:#2e0c05;--bg:#f9bc2e"><span class="o">1</span><span class="o">1</span>0924</div>
<div class="c r" style="left:420px;width:45.75px;top:927px;color:#2e0c05;--bg:#f9bc2e">7537</div>
<div class="c r" style="left:469px;width:51.75px;top:927px;color:#2e0c05;--bg:#f9bc2e">267</div>
<div class="c r" style="left:524px;width:55.75px;top:927px;color:#2e0c05;--bg:#f9bc2e">67.947</div>
<div class="c r" style="left:583px;width:51.75px;top:927px;color:#2e0c05;--bg:#f9bc2e">24.07<span class="o">1</span></div>
<div class="a" style="left:38px;top:946px;width:599px;height:19px;background:#fefa36"></div>
<div class="c m b" style="left:7px;width:30px;top:946px">94</div>
<div class="c r" style="left:38px;width:97.75px;top:946px;color:#000;--bg:#fefa36">Georgia</div>
<div class="c r" style="left:139px;width:174.75px;top:946px;color:#000;--bg:#fefa36">Sumter</div>
<div class="c m" style="left:317px;width:39px;top:946px;color:#000">D (S)</div>
<div class="c r" style="left:357px;width:59.75px;top:947px;color:#000;--bg:#fefa36">29524</div>
<div class="c r" style="left:420px;width:45.75px;top:947px;color:#000;--bg:#fefa36"><span class="o">1</span><span class="o">1</span>96</div>
<div class="c r" style="left:469px;width:51.75px;top:947px;color:#000;--bg:#fefa36">7<span class="o">1</span></div>
<div class="c r" style="left:524px;width:55.75px;top:947px;color:#000;--bg:#fefa36">40.509</div>
<div class="c r" style="left:583px;width:51.75px;top:947px;color:#000;--bg:#fefa36">24.048</div>
<div class="a" style="left:38px;top:966px;width:599px;height:19px;background:#f9bc2e"></div>
<div class="c m b" style="left:7px;width:30px;top:966px">95</div>
<div class="c r" style="left:38px;width:97.75px;top:966px;color:#2e0c05;--bg:#f9bc2e">North Dakota</div>
<div class="c r" style="left:139px;width:174.75px;top:966px;color:#2e0c05;--bg:#f9bc2e">McIntosh County</div>
<div class="c m" style="left:317px;width:39px;top:966px;color:#2e0c05">R</div>
<div class="c r" style="left:357px;width:59.75px;top:967px;color:#2e0c05;--bg:#f9bc2e">2497</div>
<div class="c r" style="left:420px;width:45.75px;top:967px;color:#2e0c05;--bg:#f9bc2e">230</div>
<div class="c r" style="left:469px;width:51.75px;top:967px;color:#2e0c05;--bg:#f9bc2e">6</div>
<div class="c r" style="left:524px;width:55.75px;top:967px;color:#2e0c05;--bg:#f9bc2e">92.<span class="o">1</span><span class="o">1</span><span class="o">1</span></div>
<div class="c r" style="left:583px;width:51.75px;top:967px;color:#2e0c05;--bg:#f9bc2e">24.029</div>
<div class="a" style="left:38px;top:986px;width:599px;height:19px;background:#f9bc2e"></div>
<div class="c m b" style="left:7px;width:30px;top:986px">96</div>
<div class="c r" style="left:38px;width:97.75px;top:986px;color:#2e0c05;--bg:#f9bc2e">Montana</div>
<div class="c r" style="left:139px;width:174.75px;top:986px;color:#2e0c05;--bg:#f9bc2e">Carter County</div>
<div class="c m" style="left:317px;width:39px;top:986px;color:#2e0c05">R</div>
<div class="c r" style="left:357px;width:59.75px;top:987px;color:#2e0c05;--bg:#f9bc2e"><span class="o">1</span>252</div>
<div class="c r" style="left:420px;width:45.75px;top:987px;color:#2e0c05;--bg:#f9bc2e"><span class="o">1</span>08</div>
<div class="c r" style="left:469px;width:51.75px;top:987px;color:#2e0c05;--bg:#f9bc2e">3</div>
<div class="c r" style="left:524px;width:55.75px;top:987px;color:#2e0c05;--bg:#f9bc2e">86.262</div>
<div class="c r" style="left:583px;width:51.75px;top:987px;color:#2e0c05;--bg:#f9bc2e">23.962</div>
<div class="a" style="left:38px;top:1006px;width:599px;height:19px;background:#f9bc2e"></div>
<div class="c m b" style="left:7px;width:30px;top:1006px">97</div>
<div class="c r" style="left:38px;width:97.75px;top:1006px;color:#2e0c05;--bg:#f9bc2e">Tennessee</div>
<div class="c r" style="left:139px;width:174.75px;top:1006px;color:#2e0c05;--bg:#f9bc2e">Pickett County</div>
<div class="c m" style="left:317px;width:39px;top:1006px;color:#2e0c05">R</div>
<div class="c r" style="left:357px;width:59.75px;top:1007px;color:#2e0c05;--bg:#f9bc2e">5048</div>
<div class="c r" style="left:420px;width:45.75px;top:1007px;color:#2e0c05;--bg:#f9bc2e">362</div>
<div class="c r" style="left:469px;width:51.75px;top:1007px;color:#2e0c05;--bg:#f9bc2e"><span class="o">1</span>2</div>
<div class="c r" style="left:524px;width:55.75px;top:1007px;color:#2e0c05;--bg:#f9bc2e">7<span class="o">1</span>.7<span class="o">1</span>2</div>
<div class="c r" style="left:583px;width:51.75px;top:1007px;color:#2e0c05;--bg:#f9bc2e">23.772</div>
<div class="a" style="left:38px;top:1026px;width:599px;height:19px;background:#f9bc2e"></div>
<div class="c m b" style="left:7px;width:30px;top:1026px">98</div>
<div class="c r" style="left:38px;width:97.75px;top:1026px;color:#2e0c05;--bg:#f9bc2e">Georgia</div>
<div class="c r" style="left:139px;width:174.75px;top:1026px;color:#2e0c05;--bg:#f9bc2e">Laurens</div>
<div class="c m" style="left:317px;width:39px;top:1026px;color:#2e0c05">R</div>
<div class="c r" style="left:357px;width:59.75px;top:1027px;color:#2e0c05;--bg:#f9bc2e">47546</div>
<div class="c r" style="left:420px;width:45.75px;top:1027px;color:#2e0c05;--bg:#f9bc2e">2532</div>
<div class="c r" style="left:469px;width:51.75px;top:1027px;color:#2e0c05;--bg:#f9bc2e"><span class="o">1</span><span class="o">1</span>3</div>
<div class="c r" style="left:524px;width:55.75px;top:1027px;color:#2e0c05;--bg:#f9bc2e">53.254</div>
<div class="c r" style="left:583px;width:51.75px;top:1027px;color:#2e0c05;--bg:#f9bc2e">23.766</div>
<div class="a" style="left:38px;top:1046px;width:599px;height:19px;background:#f9bc2e"></div>
<div class="c m b" style="left:7px;width:30px;top:1046px">99</div>
<div class="c r" style="left:38px;width:97.75px;top:1046px;color:#2e0c05;--bg:#f9bc2e">Iowa</div>
<div class="c r" style="left:139px;width:174.75px;top:1046px;color:#2e0c05;--bg:#f9bc2e">Tama County</div>
<div class="c m" style="left:317px;width:39px;top:1046px;color:#2e0c05">R</div>
<div class="c r" style="left:357px;width:59.75px;top:1047px;color:#2e0c05;--bg:#f9bc2e"><span class="o">1</span>6854</div>
<div class="c r" style="left:420px;width:45.75px;top:1047px;color:#2e0c05;--bg:#f9bc2e"><span class="o">1</span>445</div>
<div class="c r" style="left:469px;width:51.75px;top:1047px;color:#2e0c05;--bg:#f9bc2e">40</div>
<div class="c r" style="left:524px;width:55.75px;top:1047px;color:#2e0c05;--bg:#f9bc2e">85.736</div>
<div class="c r" style="left:583px;width:51.75px;top:1047px;color:#2e0c05;--bg:#f9bc2e">23.733</div>
<div class="a" style="left:38px;top:1066px;width:599px;height:19px;background:#f9bc2e"></div>
<div class="c m b" style="left:7px;width:30px;top:1066px"><span class="o">1</span>00</div>
<div class="c r" style="left:38px;width:97.75px;top:1066px;color:#2e0c05;--bg:#f9bc2e">Tennessee</div>
<div class="c r" style="left:139px;width:174.75px;top:1066px;color:#2e0c05;--bg:#f9bc2e">Clay County</div>
<div class="c m" style="left:317px;width:39px;top:1066px;color:#2e0c05">R</div>
<div class="c r" style="left:357px;width:59.75px;top:1067px;color:#2e0c05;--bg:#f9bc2e">76<span class="o">1</span>5</div>
<div class="c r" style="left:420px;width:45.75px;top:1067px;color:#2e0c05;--bg:#f9bc2e">520</div>
<div class="c r" style="left:469px;width:51.75px;top:1067px;color:#2e0c05;--bg:#f9bc2e"><span class="o">1</span>8</div>
<div class="c r" style="left:524px;width:55.75px;top:1067px;color:#2e0c05;--bg:#f9bc2e">68.286</div>
<div class="c r" style="left:583px;width:51.75px;top:1067px;color:#2e0c05;--bg:#f9bc2e">23.638</div>
<div class="c m b" style="left:38px;width:100px;top:57px">State</div>
<div class="c m b" style="left:139px;width:177px;top:57px">County / City</div>
<div class="c m b" style="left:317px;width:39px;top:57px">R/D</div>
<div class="c m b" style="left:357px;width:62px;top:57px">Pop</div>
<div class="c m b" style="left:420px;width:48px;top:57px">Cases</div>
<div class="c m b" style="left:469px;width:54px;top:57px">Deaths</div>
<div class="c m b" style="left:524px;width:58px;top:47.5px">Cases</div>
<div class="c m b" style="left:524px;width:58px;top:65.5px;--bg:#fff">/<span class="o">1</span>,000</div>
<div class="c m b" style="left:583px;width:54px;top:47.5px">Deaths</div>
<div class="c m b" style="left:583px;width:54px;top:65.5px;--bg:#fefa36">/<span class="o">1</span>0,000</div>
<div class="c m b" style="left:7px;width:630px;top:8px">COVID-<span class="o">1</span>9 Cases &amp; Fatalities per capita by County</div>
<div class="c m b" style="left:7px;width:630px;top:26px">All 50 States + DC; all data as of <span class="o">1</span><span class="o">1</span>/2<span class="o">1</span>/20&nbsp; • Compiled by Charles Gaba / ACASignups.net</div>
<div class="lh" style="left:6px;top:7px;width:632px"></div>
<div class="lh" style="left:6px;top:47px;width:632px"></div>
<div class="lh" style="left:6px;top:85px;width:31px"></div>
<div class="lh" style="left:37px;top:85px;width:601px;background:#000"></div>
<div class="lh" style="left:6px;top:105px;width:31px"></div>
<div class="lh" style="left:37px;top:105px;width:601px;background:#2a0604"></div>
<div class="lh" style="left:6px;top:125px;width:31px"></div>
<div class="lh" style="left:37px;top:125px;width:601px;background:#100808"></div>
<div class="lh" style="left:6px;top:145px;width:31px"></div>
<div class="lh" style="left:37px;top:145px;width:601px;background:#100808"></div>
<div class="lh" style="left:6px;top:165px;width:31px"></div>
<div class="lh" style="left:37px;top:165px;width:601px;background:#2a0604"></div>
<div class="lh" style="left:6px;top:185px;width:31px"></div>
<div class="lh" style="left:37px;top:185px;width:601px;background:#2a0604"></div>
<div class="lh" style="left:6px;top:205px;width:31px"></div>
<div class="lh" style="left:37px;top:205px;width:601px;background:#2a0604"></div>
<div class="lh" style="left:6px;top:225px;width:31px"></div>
<div class="lh" style="left:37px;top:225px;width:601px;background:#100808"></div>
<div class="lh" style="left:6px;top:245px;width:31px"></div>
<div class="lh" style="left:37px;top:245px;width:601px;background:#061a44"></div>
<div class="lh" style="left:6px;top:265px;width:31px"></div>
<div class="lh" style="left:37px;top:265px;width:601px;background:#100808"></div>
<div class="lh" style="left:6px;top:285px;width:31px"></div>
<div class="lh" style="left:37px;top:285px;width:601px;background:#100808"></div>
<div class="lh" style="left:6px;top:305px;width:31px"></div>
<div class="lh" style="left:37px;top:305px;width:601px;background:#100808"></div>
<div class="lh" style="left:6px;top:325px;width:31px"></div>
<div class="lh" style="left:37px;top:325px;width:601px;background:#100808"></div>
<div class="lh" style="left:6px;top:345px;width:31px"></div>
<div class="lh" style="left:37px;top:345px;width:601px;background:#100808"></div>
<div class="lh" style="left:6px;top:365px;width:31px"></div>
<div class="lh" style="left:37px;top:365px;width:601px;background:#100808"></div>
<div class="lh" style="left:6px;top:385px;width:31px"></div>
<div class="lh" style="left:37px;top:385px;width:601px;background:#100808"></div>
<div class="lh" style="left:6px;top:405px;width:31px"></div>
<div class="lh" style="left:37px;top:405px;width:601px;background:#100808"></div>
<div class="lh" style="left:6px;top:425px;width:31px"></div>
<div class="lh" style="left:37px;top:425px;width:601px;background:#100808"></div>
<div class="lh" style="left:6px;top:445px;width:31px"></div>
<div class="lh" style="left:37px;top:445px;width:601px;background:#100808"></div>
<div class="lh" style="left:6px;top:465px;width:31px"></div>
<div class="lh" style="left:37px;top:465px;width:601px;background:#100808"></div>
<div class="lh" style="left:6px;top:485px;width:31px"></div>
<div class="lh" style="left:37px;top:485px;width:601px;background:#2a0604"></div>
<div class="lh" style="left:6px;top:505px;width:31px"></div>
<div class="lh" style="left:37px;top:505px;width:601px;background:#2a0604"></div>
<div class="lh" style="left:6px;top:525px;width:31px"></div>
<div class="lh" style="left:37px;top:525px;width:601px;background:#100808"></div>
<div class="lh" style="left:6px;top:545px;width:31px"></div>
<div class="lh" style="left:37px;top:545px;width:601px;background:#100808"></div>
<div class="lh" style="left:6px;top:565px;width:31px"></div>
<div class="lh" style="left:37px;top:565px;width:601px;background:#2a0604"></div>
<div class="lh" style="left:6px;top:585px;width:31px"></div>
<div class="lh" style="left:37px;top:585px;width:601px;background:#100808"></div>
<div class="lh" style="left:6px;top:605px;width:31px"></div>
<div class="lh" style="left:37px;top:605px;width:601px;background:#100808"></div>
<div class="lh" style="left:6px;top:625px;width:31px"></div>
<div class="lh" style="left:37px;top:625px;width:601px;background:#100808"></div>
<div class="lh" style="left:6px;top:645px;width:31px"></div>
<div class="lh" style="left:37px;top:645px;width:601px;background:#100808"></div>
<div class="lh" style="left:6px;top:665px;width:31px"></div>
<div class="lh" style="left:37px;top:665px;width:601px;background:#100808"></div>
<div class="lh" style="left:6px;top:685px;width:31px"></div>
<div class="lh" style="left:37px;top:685px;width:601px;background:#061a44"></div>
<div class="lh" style="left:6px;top:705px;width:31px"></div>
<div class="lh" style="left:37px;top:705px;width:601px;background:#100808"></div>
<div class="lh" style="left:6px;top:725px;width:31px"></div>
<div class="lh" style="left:37px;top:725px;width:601px;background:#100808"></div>
<div class="lh" style="left:6px;top:745px;width:31px"></div>
<div class="lh" style="left:37px;top:745px;width:601px;background:#100808"></div>
<div class="lh" style="left:6px;top:765px;width:31px"></div>
<div class="lh" style="left:37px;top:765px;width:601px;background:#2a0604"></div>
<div class="lh" style="left:6px;top:785px;width:31px"></div>
<div class="lh" style="left:37px;top:785px;width:601px;background:#100808"></div>
<div class="lh" style="left:6px;top:805px;width:31px"></div>
<div class="lh" style="left:37px;top:805px;width:601px;background:#100808"></div>
<div class="lh" style="left:6px;top:825px;width:31px"></div>
<div class="lh" style="left:37px;top:825px;width:601px;background:#2a0604"></div>
<div class="lh" style="left:6px;top:845px;width:31px"></div>
<div class="lh" style="left:37px;top:845px;width:601px;background:#2a0604"></div>
<div class="lh" style="left:6px;top:865px;width:31px"></div>
<div class="lh" style="left:37px;top:865px;width:601px;background:#2a0604"></div>
<div class="lh" style="left:6px;top:885px;width:31px"></div>
<div class="lh" style="left:37px;top:885px;width:601px;background:#100808"></div>
<div class="lh" style="left:6px;top:905px;width:31px"></div>
<div class="lh" style="left:37px;top:905px;width:601px;background:#100808"></div>
<div class="lh" style="left:6px;top:925px;width:31px"></div>
<div class="lh" style="left:37px;top:925px;width:601px;background:#2a0604"></div>
<div class="lh" style="left:6px;top:945px;width:31px"></div>
<div class="lh" style="left:37px;top:945px;width:601px;background:#100808"></div>
<div class="lh" style="left:6px;top:965px;width:31px"></div>
<div class="lh" style="left:37px;top:965px;width:601px;background:#100808"></div>
<div class="lh" style="left:6px;top:985px;width:31px"></div>
<div class="lh" style="left:37px;top:985px;width:601px;background:#2a0604"></div>
<div class="lh" style="left:6px;top:1005px;width:31px"></div>
<div class="lh" style="left:37px;top:1005px;width:601px;background:#2a0604"></div>
<div class="lh" style="left:6px;top:1025px;width:31px"></div>
<div class="lh" style="left:37px;top:1025px;width:601px;background:#2a0604"></div>
<div class="lh" style="left:6px;top:1045px;width:31px"></div>
<div class="lh" style="left:37px;top:1045px;width:601px;background:#2a0604"></div>
<div class="lh" style="left:6px;top:1065px;width:31px"></div>
<div class="lh" style="left:37px;top:1065px;width:601px;background:#2a0604"></div>
<div class="lh" style="left:6px;top:1085px;width:31px"></div>
<div class="lh" style="left:37px;top:1085px;width:601px;background:#000"></div>
<div class="lv" style="left:6px;top:7px;height:1079px"></div>
<div class="lv" style="left:637px;top:7px;height:79px"></div>
<div class="lv" style="left:37px;top:47px;height:39px"></div>
<div class="lv" style="left:138px;top:47px;height:39px"></div>
<div class="lv" style="left:316px;top:47px;height:39px"></div>
<div class="lv" style="left:356px;top:47px;height:39px"></div>
<div class="lv" style="left:419px;top:47px;height:39px"></div>
<div class="lv" style="left:468px;top:47px;height:39px"></div>
<div class="lv" style="left:523px;top:47px;height:39px"></div>
<div class="lv" style="left:582px;top:47px;height:39px"></div>
<div class="lv" style="left:37px;top:86px;height:19px;background:#000"></div>
<div class="lv" style="left:138px;top:86px;height:19px;background:#2a0604"></div>
<div class="lv" style="left:316px;top:86px;height:19px;background:#2a0604"></div>
<div class="lv" style="left:356px;top:86px;height:19px;background:#2a0604"></div>
<div class="lv" style="left:419px;top:86px;height:19px;background:#2a0604"></div>
<div class="lv" style="left:468px;top:86px;height:19px;background:#2a0604"></div>
<div class="lv" style="left:523px;top:86px;height:19px;background:#2a0604"></div>
<div class="lv" style="left:582px;top:86px;height:19px;background:#2a0604"></div>
<div class="lv" style="left:637px;top:86px;height:19px;background:#2a0604"></div>
<div class="lv" style="left:37px;top:106px;height:19px;background:#000"></div>
<div class="lv" style="left:138px;top:106px;height:19px;background:#2a0604"></div>
<div class="lv" style="left:316px;top:106px;height:19px;background:#2a0604"></div>
<div class="lv" style="left:356px;top:106px;height:19px;background:#2a0604"></div>
<div class="lv" style="left:419px;top:106px;height:19px;background:#2a0604"></div>
<div class="lv" style="left:468px;top:106px;height:19px;background:#2a0604"></div>
<div class="lv" style="left:523px;top:106px;height:19px;background:#2a0604"></div>
<div class="lv" style="left:582px;top:106px;height:19px;background:#2a0604"></div>
<div class="lv" style="left:637px;top:106px;height:19px;background:#2a0604"></div>
<div class="lv" style="left:37px;top:126px;height:19px;background:#000"></div>
<div class="lv" style="left:138px;top:126px;height:19px;background:#061a44"></div>
<div class="lv" style="left:316px;top:126px;height:19px;background:#061a44"></div>
<div class="lv" style="left:356px;top:126px;height:19px;background:#061a44"></div>
<div class="lv" style="left:419px;top:126px;height:19px;background:#061a44"></div>
<div class="lv" style="left:468px;top:126px;height:19px;background:#061a44"></div>
<div class="lv" style="left:523px;top:126px;height:19px;background:#061a44"></div>
<div class="lv" style="left:582px;top:126px;height:19px;background:#061a44"></div>
<div class="lv" style="left:637px;top:126px;height:19px;background:#061a44"></div>
<div class="lv" style="left:37px;top:146px;height:19px;background:#000"></div>
<div class="lv" style="left:138px;top:146px;height:19px;background:#2a0604"></div>
<div class="lv" style="left:316px;top:146px;height:19px;background:#2a0604"></div>
<div class="lv" style="left:356px;top:146px;height:19px;background:#2a0604"></div>
<div class="lv" style="left:419px;top:146px;height:19px;background:#2a0604"></div>
<div class="lv" style="left:468px;top:146px;height:19px;background:#2a0604"></div>
<div class="lv" style="left:523px;top:146px;height:19px;background:#2a0604"></div>
<div class="lv" style="left:582px;top:146px;height:19px;background:#2a0604"></div>
<div class="lv" style="left:637px;top:146px;height:19px;background:#2a0604"></div>
<div class="lv" style="left:37px;top:166px;height:19px;background:#000"></div>
<div class="lv" style="left:138px;top:166px;height:19px;background:#2a0604"></div>
<div class="lv" style="left:316px;top:166px;height:19px;background:#2a0604"></div>
<div class="lv" style="left:356px;top:166px;height:19px;background:#2a0604"></div>
<div class="lv" style="left:419px;top:166px;height:19px;background:#2a0604"></div>
<div class="lv" style="left:468px;top:166px;height:19px;background:#2a0604"></div>
<div class="lv" style="left:523px;top:166px;height:19px;background:#2a0604"></div>
<div class="lv" style="left:582px;top:166px;height:19px;background:#2a0604"></div>
<div class="lv" style="left:637px;top:166px;height:19px;background:#2a0604"></div>
<div class="lv" style="left:37px;top:186px;height:19px;background:#000"></div>
<div class="lv" style="left:138px;top:186px;height:19px;background:#2a0604"></div>
<div class="lv" style="left:316px;top:186px;height:19px;background:#2a0604"></div>
<div class="lv" style="left:356px;top:186px;height:19px;background:#2a0604"></div>
<div class="lv" style="left:419px;top:186px;height:19px;background:#2a0604"></div>
<div class="lv" style="left:468px;top:186px;height:19px;background:#2a0604"></div>
<div class="lv" style="left:523px;top:186px;height:19px;background:#2a0604"></div>
<div class="lv" style="left:582px;top:186px;height:19px;background:#2a0604"></div>
<div class="lv" style="left:637px;top:186px;height:19px;background:#2a0604"></div>
<div class="lv" style="left:37px;top:206px;height:19px;background:#000"></div>
<div class="lv" style="left:138px;top:206px;height:19px;background:#2a0604"></div>
<div class="lv" style="left:316px;top:206px;height:19px;background:#2a0604"></div>
<div class="lv" style="left:356px;top:206px;height:19px;background:#2a0604"></div>
<div class="lv" style="left:419px;top:206px;height:19px;background:#2a0604"></div>
<div class="lv" style="left:468px;top:206px;height:19px;background:#2a0604"></div>
<div class="lv" style="left:523px;top:206px;height:19px;background:#2a0604"></div>
<div class="lv" style="left:582px;top:206px;height:19px;background:#2a0604"></div>
<div class="lv" style="left:637px;top:206px;height:19px;background:#2a0604"></div>
<div class="lv" style="left:37px;top:226px;height:19px;background:#000"></div>
<div class="lv" style="left:138px;top:226px;height:19px;background:#061a44"></div>
<div class="lv" style="left:316px;top:226px;height:19px;background:#061a44"></div>
<div class="lv" style="left:356px;top:226px;height:19px;background:#061a44"></div>
<div class="lv" style="left:419px;top:226px;height:19px;background:#061a44"></div>
<div class="lv" style="left:468px;top:226px;height:19px;background:#061a44"></div>
<div class="lv" style="left:523px;top:226px;height:19px;background:#061a44"></div>
<div class="lv" style="left:582px;top:226px;height:19px;background:#061a44"></div>
<div class="lv" style="left:637px;top:226px;height:19px;background:#061a44"></div>
<div class="lv" style="left:37px;top:246px;height:19px;background:#000"></div>
<div class="lv" style="left:138px;top:246px;height:19px;background:#061a44"></div>
<div class="lv" style="left:316px;top:246px;height:19px;background:#061a44"></div>
<div class="lv" style="left:356px;top:246px;height:19px;background:#061a44"></div>
<div class="lv" style="left:419px;top:246px;height:19px;background:#061a44"></div>
<div class="lv" style="left:468px;top:246px;height:19px;background:#061a44"></div>
<div class="lv" style="left:523px;top:246px;height:19px;background:#061a44"></div>
<div class="lv" style="left:582px;top:246px;height:19px;background:#061a44"></div>
<div class="lv" style="left:637px;top:246px;height:19px;background:#061a44"></div>
<div class="lv" style="left:37px;top:266px;height:19px;background:#000"></div>
<div class="lv" style="left:138px;top:266px;height:19px;background:#2a0604"></div>
<div class="lv" style="left:316px;top:266px;height:19px;background:#2a0604"></div>
<div class="lv" style="left:356px;top:266px;height:19px;background:#2a0604"></div>
<div class="lv" style="left:419px;top:266px;height:19px;background:#2a0604"></div>
<div class="lv" style="left:468px;top:266px;height:19px;background:#2a0604"></div>
<div class="lv" style="left:523px;top:266px;height:19px;background:#2a0604"></div>
<div class="lv" style="left:582px;top:266px;height:19px;background:#2a0604"></div>
<div class="lv" style="left:637px;top:266px;height:19px;background:#2a0604"></div>
<div class="lv" style="left:37px;top:286px;height:19px;background:#000"></div>
<div class="lv" style="left:138px;top:286px;height:19px;background:#061a44"></div>
<div class="lv" style="left:316px;top:286px;height:19px;background:#061a44"></div>
<div class="lv" style="left:356px;top:286px;height:19px;background:#061a44"></div>
<div class="lv" style="left:419px;top:286px;height:19px;background:#061a44"></div>
<div class="lv" style="left:468px;top:286px;height:19px;background:#061a44"></div>
<div class="lv" style="left:523px;top:286px;height:19px;background:#061a44"></div>
<div class="lv" style="left:582px;top:286px;height:19px;background:#061a44"></div>
<div class="lv" style="left:637px;top:286px;height:19px;background:#061a44"></div>
<div class="lv" style="left:37px;top:306px;height:19px;background:#000"></div>
<div class="lv" style="left:138px;top:306px;height:19px;background:#2a0604"></div>
<div class="lv" style="left:316px;top:306px;height:19px;background:#2a0604"></div>
<div class="lv" style="left:356px;top:306px;height:19px;background:#2a0604"></div>
<div class="lv" style="left:419px;top:306px;height:19px;background:#2a0604"></div>
<div class="lv" style="left:468px;top:306px;height:19px;background:#2a0604"></div>
<div class="lv" style="left:523px;top:306px;height:19px;background:#2a0604"></div>
<div class="lv" style="left:582px;top:306px;height:19px;background:#2a0604"></div>
<div class="lv" style="left:637px;top:306px;height:19px;background:#2a0604"></div>
<div class="lv" style="left:37px;top:326px;height:19px;background:#000"></div>
<div class="lv" style="left:138px;top:326px;height:19px;background:#061a44"></div>
<div class="lv" style="left:316px;top:326px;height:19px;background:#061a44"></div>
<div class="lv" style="left:356px;top:326px;height:19px;background:#061a44"></div>
<div class="lv" style="left:419px;top:326px;height:19px;background:#061a44"></div>
<div class="lv" style="left:468px;top:326px;height:19px;background:#061a44"></div>
<div class="lv" style="left:523px;top:326px;height:19px;background:#061a44"></div>
<div class="lv" style="left:582px;top:326px;height:19px;background:#061a44"></div>
<div class="lv" style="left:637px;top:326px;height:19px;background:#061a44"></div>
<div class="lv" style="left:37px;top:346px;height:19px;background:#000"></div>
<div class="lv" style="left:138px;top:346px;height:19px;background:#2a0604"></div>
<div class="lv" style="left:316px;top:346px;height:19px;background:#2a0604"></div>
<div class="lv" style="left:356px;top:346px;height:19px;background:#2a0604"></div>
<div class="lv" style="left:419px;top:346px;height:19px;background:#2a0604"></div>
<div class="lv" style="left:468px;top:346px;height:19px;background:#2a0604"></div>
<div class="lv" style="left:523px;top:346px;height:19px;background:#2a0604"></div>
<div class="lv" style="left:582px;top:346px;height:19px;background:#2a0604"></div>
<div class="lv" style="left:637px;top:346px;height:19px;background:#2a0604"></div>
<div class="lv" style="left:37px;top:366px;height:19px;background:#000"></div>
<div class="lv" style="left:138px;top:366px;height:19px;background:#061a44"></div>
<div class="lv" style="left:316px;top:366px;height:19px;background:#061a44"></div>
<div class="lv" style="left:356px;top:366px;height:19px;background:#061a44"></div>
<div class="lv" style="left:419px;top:366px;height:19px;background:#061a44"></div>
<div class="lv" style="left:468px;top:366px;height:19px;background:#061a44"></div>
<div class="lv" style="left:523px;top:366px;height:19px;background:#061a44"></div>
<div class="lv" style="left:582px;top:366px;height:19px;background:#061a44"></div>
<div class="lv" style="left:637px;top:366px;height:19px;background:#061a44"></div>
<div class="lv" style="left:37px;top:386px;height:19px;background:#000"></div>
<div class="lv" style="left:138px;top:386px;height:19px;background:#2a0604"></div>
<div class="lv" style="left:316px;top:386px;height:19px;background:#2a0604"></div>
<div class="lv" style="left:356px;top:386px;height:19px;background:#2a0604"></div>
<div class="lv" style="left:419px;top:386px;height:19px;background:#2a0604"></div>
<div class="lv" style="left:468px;top:386px;height:19px;background:#2a0604"></div>
<div class="lv" style="left:523px;top:386px;height:19px;background:#2a0604"></div>
<div class="lv" style="left:582px;top:386px;height:19px;background:#2a0604"></div>
<div class="lv" style="left:637px;top:386px;height:19px;background:#2a0604"></div>
<div class="lv" style="left:37px;top:406px;height:19px;background:#000"></div>
<div class="lv" style="left:138px;top:406px;height:19px;background:#061a44"></div>
<div class="lv" style="left:316px;top:406px;height:19px;background:#061a44"></div>
<div class="lv" style="left:356px;top:406px;height:19px;background:#061a44"></div>
<div class="lv" style="left:419px;top:406px;height:19px;background:#061a44"></div>
<div class="lv" style="left:468px;top:406px;height:19px;background:#061a44"></div>
<div class="lv" style="left:523px;top:406px;height:19px;background:#061a44"></div>
<div class="lv" style="left:582px;top:406px;height:19px;background:#061a44"></div>
<div class="lv" style="left:637px;top:406px;height:19px;background:#061a44"></div>
<div class="lv" style="left:37px;top:426px;height:19px;background:#000"></div>
<div class="lv" style="left:138px;top:426px;height:19px;background:#2a0604"></div>
<div class="lv" style="left:316px;top:426px;height:19px;background:#2a0604"></div>
<div class="lv" style="left:356px;top:426px;height:19px;background:#2a0604"></div>
<div class="lv" style="left:419px;top:426px;height:19px;background:#2a0604"></div>
<div class="lv" style="left:468px;top:426px;height:19px;background:#2a0604"></div>
<div class="lv" style="left:523px;top:426px;height:19px;background:#2a0604"></div>
<div class="lv" style="left:582px;top:426px;height:19px;background:#2a0604"></div>
<div class="lv" style="left:637px;top:426px;height:19px;background:#2a0604"></div>
<div class="lv" style="left:37px;top:446px;height:19px;background:#000"></div>
<div class="lv" style="left:138px;top:446px;height:19px;background:#061a44"></div>
<div class="lv" style="left:316px;top:446px;height:19px;background:#061a44"></div>
<div class="lv" style="left:356px;top:446px;height:19px;background:#061a44"></div>
<div class="lv" style="left:419px;top:446px;height:19px;background:#061a44"></div>
<div class="lv" style="left:468px;top:446px;height:19px;background:#061a44"></div>
<div class="lv" style="left:523px;top:446px;height:19px;background:#061a44"></div>
<div class="lv" style="left:582px;top:446px;height:19px;background:#061a44"></div>
<div class="lv" style="left:637px;top:446px;height:19px;background:#061a44"></div>
<div class="lv" style="left:37px;top:466px;height:19px;background:#000"></div>
<div class="lv" style="left:138px;top:466px;height:19px;background:#2a0604"></div>
<div class="lv" style="left:316px;top:466px;height:19px;background:#2a0604"></div>
<div class="lv" style="left:356px;top:466px;height:19px;background:#2a0604"></div>
<div class="lv" style="left:419px;top:466px;height:19px;background:#2a0604"></div>
<div class="lv" style="left:468px;top:466px;height:19px;background:#2a0604"></div>
<div class="lv" style="left:523px;top:466px;height:19px;background:#2a0604"></div>
<div class="lv" style="left:582px;top:466px;height:19px;background:#2a0604"></div>
<div class="lv" style="left:637px;top:466px;height:19px;background:#2a0604"></div>
<div class="lv" style="left:37px;top:486px;height:19px;background:#000"></div>
<div class="lv" style="left:138px;top:486px;height:19px;background:#2a0604"></div>
<div class="lv" style="left:316px;top:486px;height:19px;background:#2a0604"></div>
<div class="lv" style="left:356px;top:486px;height:19px;background:#2a0604"></div>
<div class="lv" style="left:419px;top:486px;height:19px;background:#2a0604"></div>
<div class="lv" style="left:468px;top:486px;height:19px;background:#2a0604"></div>
<div class="lv" style="left:523px;top:486px;height:19px;background:#2a0604"></div>
<div class="lv" style="left:582px;top:486px;height:19px;background:#2a0604"></div>
<div class="lv" style="left:637px;top:486px;height:19px;background:#2a0604"></div>
<div class="lv" style="left:37px;top:506px;height:19px;background:#000"></div>
<div class="lv" style="left:138px;top:506px;height:19px;background:#2a0604"></div>
<div class="lv" style="left:316px;top:506px;height:19px;background:#2a0604"></div>
<div class="lv" style="left:356px;top:506px;height:19px;background:#2a0604"></div>
<div class="lv" style="left:419px;top:506px;height:19px;background:#2a0604"></div>
<div class="lv" style="left:468px;top:506px;height:19px;background:#2a0604"></div>
<div class="lv" style="left:523px;top:506px;height:19px;background:#2a0604"></div>
<div class="lv" style="left:582px;top:506px;height:19px;background:#2a0604"></div>
<div class="lv" style="left:637px;top:506px;height:19px;background:#2a0604"></div>
<div class="lv" style="left:37px;top:526px;height:19px;background:#000"></div>
<div class="lv" style="left:138px;top:526px;height:19px;background:#061a44"></div>
<div class="lv" style="left:316px;top:526px;height:19px;background:#061a44"></div>
<div class="lv" style="left:356px;top:526px;height:19px;background:#061a44"></div>
<div class="lv" style="left:419px;top:526px;height:19px;background:#061a44"></div>
<div class="lv" style="left:468px;top:526px;height:19px;background:#061a44"></div>
<div class="lv" style="left:523px;top:526px;height:19px;background:#061a44"></div>
<div class="lv" style="left:582px;top:526px;height:19px;background:#061a44"></div>
<div class="lv" style="left:637px;top:526px;height:19px;background:#061a44"></div>
<div class="lv" style="left:37px;top:546px;height:19px;background:#000"></div>
<div class="lv" style="left:138px;top:546px;height:19px;background:#2a0604"></div>
<div class="lv" style="left:316px;top:546px;height:19px;background:#2a0604"></div>
<div class="lv" style="left:356px;top:546px;height:19px;background:#2a0604"></div>
<div class="lv" style="left:419px;top:546px;height:19px;background:#2a0604"></div>
<div class="lv" style="left:468px;top:546px;height:19px;background:#2a0604"></div>
<div class="lv" style="left:523px;top:546px;height:19px;background:#2a0604"></div>
<div class="lv" style="left:582px;top:546px;height:19px;background:#2a0604"></div>
<div class="lv" style="left:637px;top:546px;height:19px;background:#2a0604"></div>
<div class="lv" style="left:37px;top:566px;height:19px;background:#000"></div>
<div class="lv" style="left:138px;top:566px;height:19px;background:#2a0604"></div>
<div class="lv" style="left:316px;top:566px;height:19px;background:#2a0604"></div>
<div class="lv" style="left:356px;top:566px;height:19px;background:#2a0604"></div>
<div class="lv" style="left:419px;top:566px;height:19px;background:#2a0604"></div>
<div class="lv" style="left:468px;top:566px;height:19px;background:#2a0604"></div>
<div class="lv" style="left:523px;top:566px;height:19px;background:#2a0604"></div>
<div class="lv" style="left:582px;top:566px;height:19px;background:#2a0604"></div>
<div class="lv" style="left:637px;top:566px;height:19px;background:#2a0604"></div>
<div class="lv" style="left:37px;top:586px;height:19px;background:#000"></div>
<div class="lv" style="left:138px;top:586px;height:19px;background:#061a44"></div>
<div class="lv" style="left:316px;top:586px;height:19px;background:#061a44"></div>
<div class="lv" style="left:356px;top:586px;height:19px;background:#061a44"></div>
<div class="lv" style="left:419px;top:586px;height:19px;background:#061a44"></div>
<div class="lv" style="left:468px;top:586px;height:19px;background:#061a44"></div>
<div class="lv" style="left:523px;top:586px;height:19px;background:#061a44"></div>
<div class="lv" style="left:582px;top:586px;height:19px;background:#061a44"></div>
<div class="lv" style="left:637px;top:586px;height:19px;background:#061a44"></div>
<div class="lv" style="left:37px;top:606px;height:19px;background:#000"></div>
<div class="lv" style="left:138px;top:606px;height:19px;background:#2a0604"></div>
<div class="lv" style="left:316px;top:606px;height:19px;background:#2a0604"></div>
<div class="lv" style="left:356px;top:606px;height:19px;background:#2a0604"></div>
<div class="lv" style="left:419px;top:606px;height:19px;background:#2a0604"></div>
<div class="lv" style="left:468px;top:606px;height:19px;background:#2a0604"></div>
<div class="lv" style="left:523px;top:606px;height:19px;background:#2a0604"></div>
<div class="lv" style="left:582px;top:606px;height:19px;background:#2a0604"></div>
<div class="lv" style="left:637px;top:606px;height:19px;background:#2a0604"></div>
<div class="lv" style="left:37px;top:626px;height:19px;background:#000"></div>
<div class="lv" style="left:138px;top:626px;height:19px;background:#061a44"></div>
<div class="lv" style="left:316px;top:626px;height:19px;background:#061a44"></div>
<div class="lv" style="left:356px;top:626px;height:19px;background:#061a44"></div>
<div class="lv" style="left:419px;top:626px;height:19px;background:#061a44"></div>
<div class="lv" style="left:468px;top:626px;height:19px;background:#061a44"></div>
<div class="lv" style="left:523px;top:626px;height:19px;background:#061a44"></div>
<div class="lv" style="left:582px;top:626px;height:19px;background:#061a44"></div>
<div class="lv" style="left:637px;top:626px;height:19px;background:#061a44"></div>
<div class="lv" style="left:37px;top:646px;height:19px;background:#000"></div>
<div class="lv" style="left:138px;top:646px;height:19px;background:#2a0604"></div>
<div class="lv" style="left:316px;top:646px;height:19px;background:#2a0604"></div>
<div class="lv" style="left:356px;top:646px;height:19px;background:#2a0604"></div>
<div class="lv" style="left:419px;top:646px;height:19px;background:#2a0604"></div>
<div class="lv" style="left:468px;top:646px;height:19px;background:#2a0604"></div>
<div class="lv" style="left:523px;top:646px;height:19px;background:#2a0604"></div>
<div class="lv" style="left:582px;top:646px;height:19px;background:#2a0604"></div>
<div class="lv" style="left:637px;top:646px;height:19px;background:#2a0604"></div>
<div class="lv" style="left:37px;top:666px;height:19px;background:#000"></div>
<div class="lv" style="left:138px;top:666px;height:19px;background:#061a44"></div>
<div class="lv" style="left:316px;top:666px;height:19px;background:#061a44"></div>
<div class="lv" style="left:356px;top:666px;height:19px;background:#061a44"></div>
<div class="lv" style="left:419px;top:666px;height:19px;background:#061a44"></div>
<div class="lv" style="left:468px;top:666px;height:19px;background:#061a44"></div>
<div class="lv" style="left:523px;top:666px;height:19px;background:#061a44"></div>
<div class="lv" style="left:582px;top:666px;height:19px;background:#061a44"></div>
<div class="lv" style="left:637px;top:666px;height:19px;background:#061a44"></div>
<div class="lv" style="left:37px;top:686px;height:19px;background:#000"></div>
<div class="lv" style="left:138px;top:686px;height:19px;background:#061a44"></div>
<div class="lv" style="left:316px;top:686px;height:19px;background:#061a44"></div>
<div class="lv" style="left:356px;top:686px;height:19px;background:#061a44"></div>
<div class="lv" style="left:419px;top:686px;height:19px;background:#061a44"></div>
<div class="lv" style="left:468px;top:686px;height:19px;background:#061a44"></div>
<div class="lv" style="left:523px;top:686px;height:19px;background:#061a44"></div>
<div class="lv" style="left:582px;top:686px;height:19px;background:#061a44"></div>
<div class="lv" style="left:637px;top:686px;height:19px;background:#061a44"></div>
<div class="lv" style="left:37px;top:706px;height:19px;background:#000"></div>
<div class="lv" style="left:138px;top:706px;height:19px;background:#141400"></div>
<div class="lv" style="left:316px;top:706px;height:19px;background:#141400"></div>
<div class="lv" style="left:356px;top:706px;height:19px;background:#141400"></div>
<div class="lv" style="left:419px;top:706px;height:19px;background:#141400"></div>
<div class="lv" style="left:468px;top:706px;height:19px;background:#141400"></div>
<div class="lv" style="left:523px;top:706px;height:19px;background:#141400"></div>
<div class="lv" style="left:582px;top:706px;height:19px;background:#141400"></div>
<div class="lv" style="left:637px;top:706px;height:19px;background:#141400"></div>
<div class="lv" style="left:37px;top:726px;height:19px;background:#000"></div>
<div class="lv" style="left:138px;top:726px;height:19px;background:#061a44"></div>
<div class="lv" style="left:316px;top:726px;height:19px;background:#061a44"></div>
<div class="lv" style="left:356px;top:726px;height:19px;background:#061a44"></div>
<div class="lv" style="left:419px;top:726px;height:19px;background:#061a44"></div>
<div class="lv" style="left:468px;top:726px;height:19px;background:#061a44"></div>
<div class="lv" style="left:523px;top:726px;height:19px;background:#061a44"></div>
<div class="lv" style="left:582px;top:726px;height:19px;background:#061a44"></div>
<div class="lv" style="left:637px;top:726px;height:19px;background:#061a44"></div>
<div class="lv" style="left:37px;top:746px;height:19px;background:#000"></div>
<div class="lv" style="left:138px;top:746px;height:19px;background:#2a0604"></div>
<div class="lv" style="left:316px;top:746px;height:19px;background:#2a0604"></div>
<div class="lv" style="left:356px;top:746px;height:19px;background:#2a0604"></div>
<div class="lv" style="left:419px;top:746px;height:19px;background:#2a0604"></div>
<div class="lv" style="left:468px;top:746px;height:19px;background:#2a0604"></div>
<div class="lv" style="left:523px;top:746px;height:19px;background:#2a0604"></div>
<div class="lv" style="left:582px;top:746px;height:19px;background:#2a0604"></div>
<div class="lv" style="left:637px;top:746px;height:19px;background:#2a0604"></div>
<div class="lv" style="left:37px;top:766px;height:19px;background:#000"></div>
<div class="lv" style="left:138px;top:766px;height:19px;background:#2a0604"></div>
<div class="lv" style="left:316px;top:766px;height:19px;background:#2a0604"></div>
<div class="lv" style="left:356px;top:766px;height:19px;background:#2a0604"></div>
<div class="lv" style="left:419px;top:766px;height:19px;background:#2a0604"></div>
<div class="lv" style="left:468px;top:766px;height:19px;background:#2a0604"></div>
<div class="lv" style="left:523px;top:766px;height:19px;background:#2a0604"></div>
<div class="lv" style="left:582px;top:766px;height:19px;background:#2a0604"></div>
<div class="lv" style="left:637px;top:766px;height:19px;background:#2a0604"></div>
<div class="lv" style="left:37px;top:786px;height:19px;background:#000"></div>
<div class="lv" style="left:138px;top:786px;height:19px;background:#061a44"></div>
<div class="lv" style="left:316px;top:786px;height:19px;background:#061a44"></div>
<div class="lv" style="left:356px;top:786px;height:19px;background:#061a44"></div>
<div class="lv" style="left:419px;top:786px;height:19px;background:#061a44"></div>
<div class="lv" style="left:468px;top:786px;height:19px;background:#061a44"></div>
<div class="lv" style="left:523px;top:786px;height:19px;background:#061a44"></div>
<div class="lv" style="left:582px;top:786px;height:19px;background:#061a44"></div>
<div class="lv" style="left:637px;top:786px;height:19px;background:#061a44"></div>
<div class="lv" style="left:37px;top:806px;height:19px;background:#000"></div>
<div class="lv" style="left:138px;top:806px;height:19px;background:#2a0604"></div>
<div class="lv" style="left:316px;top:806px;height:19px;background:#2a0604"></div>
<div class="lv" style="left:356px;top:806px;height:19px;background:#2a0604"></div>
<div class="lv" style="left:419px;top:806px;height:19px;background:#2a0604"></div>
<div class="lv" style="left:468px;top:806px;height:19px;background:#2a0604"></div>
<div class="lv" style="left:523px;top:806px;height:19px;background:#2a0604"></div>
<div class="lv" style="left:582px;top:806px;height:19px;background:#2a0604"></div>
<div class="lv" style="left:637px;top:806px;height:19px;background:#2a0604"></div>
<div class="lv" style="left:37px;top:826px;height:19px;background:#000"></div>
<div class="lv" style="left:138px;top:826px;height:19px;background:#2a0604"></div>
<div class="lv" style="left:316px;top:826px;height:19px;background:#2a0604"></div>
<div class="lv" style="left:356px;top:826px;height:19px;background:#2a0604"></div>
<div class="lv" style="left:419px;top:826px;height:19px;background:#2a0604"></div>
<div class="lv" style="left:468px;top:826px;height:19px;background:#2a0604"></div>
<div class="lv" style="left:523px;top:826px;height:19px;background:#2a0604"></div>
<div class="lv" style="left:582px;top:826px;height:19px;background:#2a0604"></div>
<div class="lv" style="left:637px;top:826px;height:19px;background:#2a0604"></div>
<div class="lv" style="left:37px;top:846px;height:19px;background:#000"></div>
<div class="lv" style="left:138px;top:846px;height:19px;background:#2a0604"></div>
<div class="lv" style="left:316px;top:846px;height:19px;background:#2a0604"></div>
<div class="lv" style="left:356px;top:846px;height:19px;background:#2a0604"></div>
<div class="lv" style="left:419px;top:846px;height:19px;background:#2a0604"></div>
<div class="lv" style="left:468px;top:846px;height:19px;background:#2a0604"></div>
<div class="lv" style="left:523px;top:846px;height:19px;background:#2a0604"></div>
<div class="lv" style="left:582px;top:846px;height:19px;background:#2a0604"></div>
<div class="lv" style="left:637px;top:846px;height:19px;background:#2a0604"></div>
<div class="lv" style="left:37px;top:866px;height:19px;background:#000"></div>
<div class="lv" style="left:138px;top:866px;height:19px;background:#2a0604"></div>
<div class="lv" style="left:316px;top:866px;height:19px;background:#2a0604"></div>
<div class="lv" style="left:356px;top:866px;height:19px;background:#2a0604"></div>
<div class="lv" style="left:419px;top:866px;height:19px;background:#2a0604"></div>
<div class="lv" style="left:468px;top:866px;height:19px;background:#2a0604"></div>
<div class="lv" style="left:523px;top:866px;height:19px;background:#2a0604"></div>
<div class="lv" style="left:582px;top:866px;height:19px;background:#2a0604"></div>
<div class="lv" style="left:637px;top:866px;height:19px;background:#2a0604"></div>
<div class="lv" style="left:37px;top:886px;height:19px;background:#000"></div>
<div class="lv" style="left:138px;top:886px;height:19px;background:#061a44"></div>
<div class="lv" style="left:316px;top:886px;height:19px;background:#061a44"></div>
<div class="lv" style="left:356px;top:886px;height:19px;background:#061a44"></div>
<div class="lv" style="left:419px;top:886px;height:19px;background:#061a44"></div>
<div class="lv" style="left:468px;top:886px;height:19px;background:#061a44"></div>
<div class="lv" style="left:523px;top:886px;height:19px;background:#061a44"></div>
<div class="lv" style="left:582px;top:886px;height:19px;background:#061a44"></div>
<div class="lv" style="left:637px;top:886px;height:19px;background:#061a44"></div>
<div class="lv" style="left:37px;top:906px;height:19px;background:#000"></div>
<div class="lv" style="left:138px;top:906px;height:19px;background:#2a0604"></div>
<div class="lv" style="left:316px;top:906px;height:19px;background:#2a0604"></div>
<div class="lv" style="left:356px;top:906px;height:19px;background:#2a0604"></div>
<div class="lv" style="left:419px;top:906px;height:19px;background:#2a0604"></div>
<div class="lv" style="left:468px;top:906px;height:19px;background:#2a0604"></div>
<div class="lv" style="left:523px;top:906px;height:19px;background:#2a0604"></div>
<div class="lv" style="left:582px;top:906px;height:19px;background:#2a0604"></div>
<div class="lv" style="left:637px;top:906px;height:19px;background:#2a0604"></div>
<div class="lv" style="left:37px;top:926px;height:19px;background:#000"></div>
<div class="lv" style="left:138px;top:926px;height:19px;background:#2a0604"></div>
<div class="lv" style="left:316px;top:926px;height:19px;background:#2a0604"></div>
<div class="lv" style="left:356px;top:926px;height:19px;background:#2a0604"></div>
<div class="lv" style="left:419px;top:926px;height:19px;background:#2a0604"></div>
<div class="lv" style="left:468px;top:926px;height:19px;background:#2a0604"></div>
<div class="lv" style="left:523px;top:926px;height:19px;background:#2a0604"></div>
<div class="lv" style="left:582px;top:926px;height:19px;background:#2a0604"></div>
<div class="lv" style="left:637px;top:926px;height:19px;background:#2a0604"></div>
<div class="lv" style="left:37px;top:946px;height:19px;background:#000"></div>
<div class="lv" style="left:138px;top:946px;height:19px;background:#141400"></div>
<div class="lv" style="left:316px;top:946px;height:19px;background:#141400"></div>
<div class="lv" style="left:356px;top:946px;height:19px;background:#141400"></div>
<div class="lv" style="left:419px;top:946px;height:19px;background:#141400"></div>
<div class="lv" style="left:468px;top:946px;height:19px;background:#141400"></div>
<div class="lv" style="left:523px;top:946px;height:19px;background:#141400"></div>
<div class="lv" style="left:582px;top:946px;height:19px;background:#141400"></div>
<div class="lv" style="left:637px;top:946px;height:19px;background:#141400"></div>
<div class="lv" style="left:37px;top:966px;height:19px;background:#000"></div>
<div class="lv" style="left:138px;top:966px;height:19px;background:#2a0604"></div>
<div class="lv" style="left:316px;top:966px;height:19px;background:#2a0604"></div>
<div class="lv" style="left:356px;top:966px;height:19px;background:#2a0604"></div>
<div class="lv" style="left:419px;top:966px;height:19px;background:#2a0604"></div>
<div class="lv" style="left:468px;top:966px;height:19px;background:#2a0604"></div>
<div class="lv" style="left:523px;top:966px;height:19px;background:#2a0604"></div>
<div class="lv" style="left:582px;top:966px;height:19px;background:#2a0604"></div>
<div class="lv" style="left:637px;top:966px;height:19px;background:#2a0604"></div>
<div class="lv" style="left:37px;top:986px;height:19px;background:#000"></div>
<div class="lv" style="left:138px;top:986px;height:19px;background:#2a0604"></div>
<div class="lv" style="left:316px;top:986px;height:19px;background:#2a0604"></div>
<div class="lv" style="left:356px;top:986px;height:19px;background:#2a0604"></div>
<div class="lv" style="left:419px;top:986px;height:19px;background:#2a0604"></div>
<div class="lv" style="left:468px;top:986px;height:19px;background:#2a0604"></div>
<div class="lv" style="left:523px;top:986px;height:19px;background:#2a0604"></div>
<div class="lv" style="left:582px;top:986px;height:19px;background:#2a0604"></div>
<div class="lv" style="left:637px;top:986px;height:19px;background:#2a0604"></div>
<div class="lv" style="left:37px;top:1006px;height:19px;background:#000"></div>
<div class="lv" style="left:138px;top:1006px;height:19px;background:#2a0604"></div>
<div class="lv" style="left:316px;top:1006px;height:19px;background:#2a0604"></div>
<div class="lv" style="left:356px;top:1006px;height:19px;background:#2a0604"></div>
<div class="lv" style="left:419px;top:1006px;height:19px;background:#2a0604"></div>
<div class="lv" style="left:468px;top:1006px;height:19px;background:#2a0604"></div>
<div class="lv" style="left:523px;top:1006px;height:19px;background:#2a0604"></div>
<div class="lv" style="left:582px;top:1006px;height:19px;background:#2a0604"></div>
<div class="lv" style="left:637px;top:1006px;height:19px;background:#2a0604"></div>
<div class="lv" style="left:37px;top:1026px;height:19px;background:#000"></div>
<div class="lv" style="left:138px;top:1026px;height:19px;background:#2a0604"></div>
<div class="lv" style="left:316px;top:1026px;height:19px;background:#2a0604"></div>
<div class="lv" style="left:356px;top:1026px;height:19px;background:#2a0604"></div>
<div class="lv" style="left:419px;top:1026px;height:19px;background:#2a0604"></div>
<div class="lv" style="left:468px;top:1026px;height:19px;background:#2a0604"></div>
<div class="lv" style="left:523px;top:1026px;height:19px;background:#2a0604"></div>
<div class="lv" style="left:582px;top:1026px;height:19px;background:#2a0604"></div>
<div class="lv" style="left:637px;top:1026px;height:19px;background:#2a0604"></div>
<div class="lv" style="left:37px;top:1046px;height:19px;background:#000"></div>
<div class="lv" style="left:138px;top:1046px;height:19px;background:#2a0604"></div>
<div class="lv" style="left:316px;top:1046px;height:19px;background:#2a0604"></div>
<div class="lv" style="left:356px;top:1046px;height:19px;background:#2a0604"></div>
<div class="lv" style="left:419px;top:1046px;height:19px;background:#2a0604"></div>
<div class="lv" style="left:468px;top:1046px;height:19px;background:#2a0604"></div>
<div class="lv" style="left:523px;top:1046px;height:19px;background:#2a0604"></div>
<div class="lv" style="left:582px;top:1046px;height:19px;background:#2a0604"></div>
<div class="lv" style="left:637px;top:1046px;height:19px;background:#2a0604"></div>
<div class="lv" style="left:37px;top:1066px;height:19px;background:#000"></div>
<div class="lv" style="left:138px;top:1066px;height:19px;background:#2a0604"></div>
<div class="lv" style="left:316px;top:1066px;height:19px;background:#2a0604"></div>
<div class="lv" style="left:356px;top:1066px;height:19px;background:#2a0604"></div>
<div class="lv" style="left:419px;top:1066px;height:19px;background:#2a0604"></div>
<div class="lv" style="left:468px;top:1066px;height:19px;background:#2a0604"></div>
<div class="lv" style="left:523px;top:1066px;height:19px;background:#2a0604"></div>
<div class="lv" style="left:582px;top:1066px;height:19px;background:#2a0604"></div>
<div class="lv" style="left:637px;top:1066px;height:19px;background:#2a0604"></div>
</div></body></html>
